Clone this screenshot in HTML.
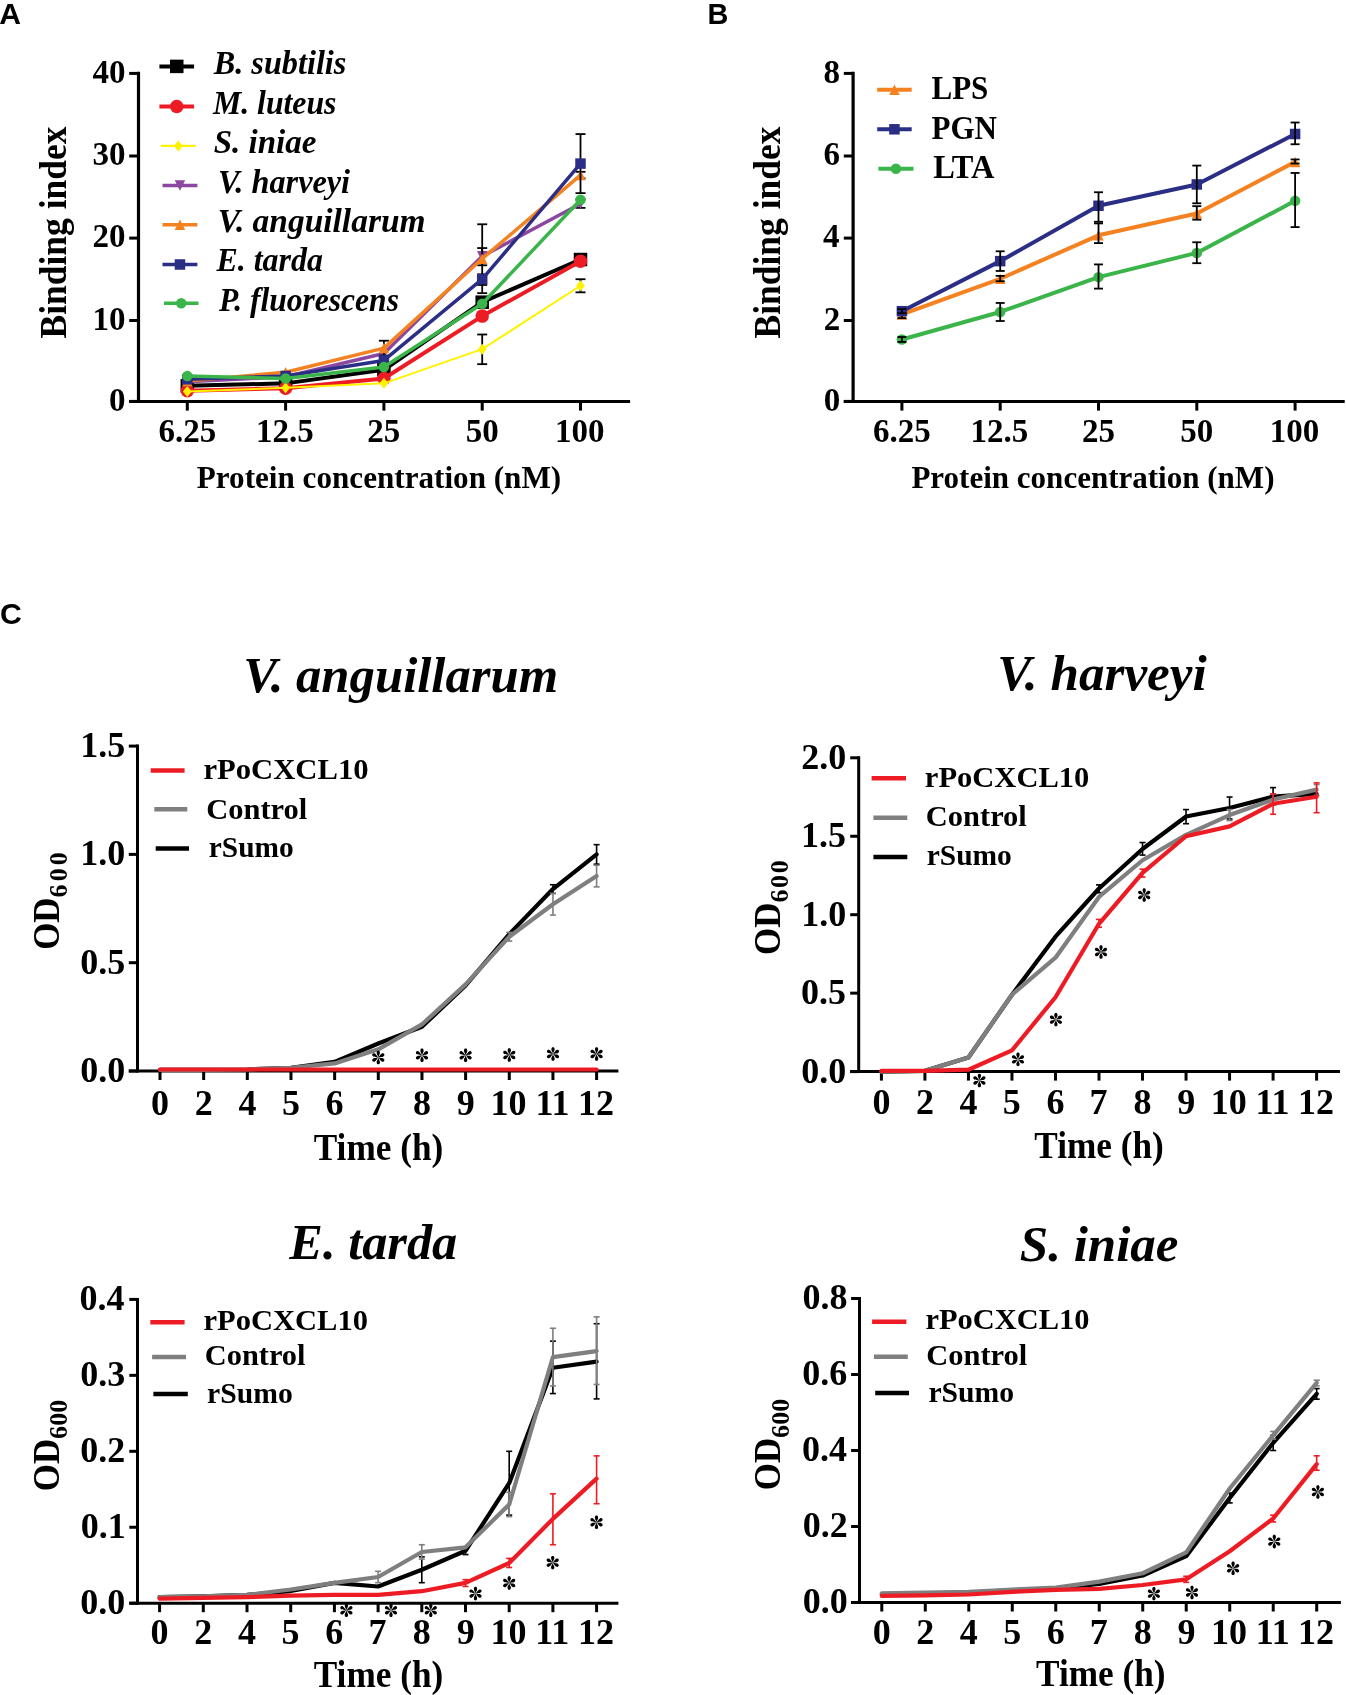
<!DOCTYPE html>
<html><head><meta charset="utf-8"><title>Figure</title>
<style>html,body{margin:0;padding:0;background:#fff;}svg{display:block;will-change:transform;}</style>
</head><body>
<svg width="1346" height="1695" viewBox="0 0 1346 1695">
<rect width="1346" height="1695" fill="#fff"/>
<text x="-0.75" y="23.90" style="font-family:'Liberation Sans';font-weight:bold;font-style:normal;font-size:30px" fill="#000" textLength="21.77" lengthAdjust="spacingAndGlyphs">A</text>
<text x="707.52" y="23.90" style="font-family:'Liberation Sans';font-weight:bold;font-style:normal;font-size:30px" fill="#000" textLength="20.84" lengthAdjust="spacingAndGlyphs">B</text>
<text x="-0.01" y="624.40" style="font-family:'Liberation Sans';font-weight:bold;font-style:normal;font-size:30px" fill="#000" textLength="21.83" lengthAdjust="spacingAndGlyphs">C</text>
<line x1="138.50" y1="71.80" x2="138.50" y2="402.90" stroke="#000" stroke-width="3.2" stroke-linecap="butt"/>
<line x1="129.20" y1="73.40" x2="138.50" y2="73.40" stroke="#000" stroke-width="3.0" stroke-linecap="butt"/>
<line x1="129.20" y1="156.00" x2="138.50" y2="156.00" stroke="#000" stroke-width="3.0" stroke-linecap="butt"/>
<line x1="129.20" y1="238.10" x2="138.50" y2="238.10" stroke="#000" stroke-width="3.0" stroke-linecap="butt"/>
<line x1="129.20" y1="320.50" x2="138.50" y2="320.50" stroke="#000" stroke-width="3.0" stroke-linecap="butt"/>
<line x1="129.20" y1="401.40" x2="138.50" y2="401.40" stroke="#000" stroke-width="3.0" stroke-linecap="butt"/>
<line x1="129.20" y1="401.40" x2="630.10" y2="401.40" stroke="#000" stroke-width="3.0" stroke-linecap="butt"/>
<line x1="187.30" y1="401.40" x2="187.30" y2="410.60" stroke="#000" stroke-width="3.0" stroke-linecap="butt"/>
<line x1="285.60" y1="401.40" x2="285.60" y2="410.60" stroke="#000" stroke-width="3.0" stroke-linecap="butt"/>
<line x1="383.90" y1="401.40" x2="383.90" y2="410.60" stroke="#000" stroke-width="3.0" stroke-linecap="butt"/>
<line x1="482.20" y1="401.40" x2="482.20" y2="410.60" stroke="#000" stroke-width="3.0" stroke-linecap="butt"/>
<line x1="580.50" y1="401.40" x2="580.50" y2="410.60" stroke="#000" stroke-width="3.0" stroke-linecap="butt"/>
<text x="92.62" y="82.70" style="font-family:'Liberation Serif';font-weight:bold;font-style:normal;font-size:33px" fill="#000">40</text>
<text x="92.62" y="165.30" style="font-family:'Liberation Serif';font-weight:bold;font-style:normal;font-size:33px" fill="#000">30</text>
<text x="92.62" y="247.40" style="font-family:'Liberation Serif';font-weight:bold;font-style:normal;font-size:33px" fill="#000">20</text>
<text x="92.62" y="329.80" style="font-family:'Liberation Serif';font-weight:bold;font-style:normal;font-size:33px" fill="#000">10</text>
<text x="109.12" y="410.70" style="font-family:'Liberation Serif';font-weight:bold;font-style:normal;font-size:33px" fill="#000">0</text>
<text x="158.43" y="441.80" style="font-family:'Liberation Serif';font-weight:bold;font-style:normal;font-size:33px" fill="#000">6.25</text>
<text x="255.98" y="441.80" style="font-family:'Liberation Serif';font-weight:bold;font-style:normal;font-size:33px" fill="#000">12.5</text>
<text x="367.32" y="441.80" style="font-family:'Liberation Serif';font-weight:bold;font-style:normal;font-size:33px" fill="#000">25</text>
<text x="465.70" y="441.80" style="font-family:'Liberation Serif';font-weight:bold;font-style:normal;font-size:33px" fill="#000">50</text>
<text x="555.09" y="441.80" style="font-family:'Liberation Serif';font-weight:bold;font-style:normal;font-size:33px" fill="#000">100</text>
<text x="196.83" y="487.60" style="font-family:'Liberation Serif';font-weight:bold;font-style:normal;font-size:31.5px" fill="#000" textLength="364.35" lengthAdjust="spacingAndGlyphs">Protein concentration (nM)</text>
<text transform="translate(65.60,338.53) rotate(-90)" x="0" y="0" style="font-family:'Liberation Serif';font-weight:bold;font-style:normal;font-size:38px" fill="#000" textLength="212.02" lengthAdjust="spacingAndGlyphs">Binding index</text>
<line x1="482.20" y1="298.08" x2="482.20" y2="306.28" stroke="#000" stroke-width="1.8" stroke-linecap="butt"/>
<line x1="477.20" y1="298.08" x2="487.20" y2="298.08" stroke="#000" stroke-width="1.8" stroke-linecap="butt"/>
<line x1="477.20" y1="306.28" x2="487.20" y2="306.28" stroke="#000" stroke-width="1.8" stroke-linecap="butt"/>
<line x1="580.50" y1="256.26" x2="580.50" y2="262.82" stroke="#000" stroke-width="1.8" stroke-linecap="butt"/>
<line x1="575.50" y1="256.26" x2="585.50" y2="256.26" stroke="#000" stroke-width="1.8" stroke-linecap="butt"/>
<line x1="575.50" y1="262.82" x2="585.50" y2="262.82" stroke="#000" stroke-width="1.8" stroke-linecap="butt"/>
<polyline points="187.30,385.82 285.60,383.36 383.90,369.83 482.20,302.18 580.50,259.54" fill="none" stroke="#000" stroke-width="4.0" stroke-linejoin="round" stroke-linecap="round"/>
<rect x="180.55" y="379.07" width="13.5" height="13.5" fill="#000"/>
<rect x="278.85" y="376.61" width="13.5" height="13.5" fill="#000"/>
<rect x="377.15" y="363.08" width="13.5" height="13.5" fill="#000"/>
<rect x="475.45" y="295.43" width="13.5" height="13.5" fill="#000"/>
<rect x="573.75" y="252.79" width="13.5" height="13.5" fill="#000"/>
<polyline points="187.30,390.74 285.60,388.28 383.90,378.44 482.20,316.12 580.50,261.18" fill="none" stroke="#ED1C24" stroke-width="4.0" stroke-linejoin="round" stroke-linecap="round"/>
<circle cx="187.30" cy="390.74" r="6.75" fill="#ED1C24"/>
<circle cx="285.60" cy="388.28" r="6.75" fill="#ED1C24"/>
<circle cx="383.90" cy="378.44" r="6.75" fill="#ED1C24"/>
<circle cx="482.20" cy="316.12" r="6.75" fill="#ED1C24"/>
<circle cx="580.50" cy="261.18" r="6.75" fill="#ED1C24"/>
<line x1="482.20" y1="334.49" x2="482.20" y2="364.17" stroke="#000" stroke-width="1.8" stroke-linecap="butt"/>
<line x1="477.20" y1="334.49" x2="487.20" y2="334.49" stroke="#000" stroke-width="1.8" stroke-linecap="butt"/>
<line x1="477.20" y1="364.17" x2="487.20" y2="364.17" stroke="#000" stroke-width="1.8" stroke-linecap="butt"/>
<line x1="580.50" y1="279.22" x2="580.50" y2="292.34" stroke="#000" stroke-width="1.8" stroke-linecap="butt"/>
<line x1="575.50" y1="279.22" x2="585.50" y2="279.22" stroke="#000" stroke-width="1.8" stroke-linecap="butt"/>
<line x1="575.50" y1="292.34" x2="585.50" y2="292.34" stroke="#000" stroke-width="1.8" stroke-linecap="butt"/>
<polyline points="187.30,391.56 285.60,387.87 383.90,383.36 482.20,349.17 580.50,285.78" fill="none" stroke="#FFF200" stroke-width="2.0" stroke-linejoin="round" stroke-linecap="round"/>
<polygon points="187.30,386.06 191.70,391.56 187.30,397.06 182.90,391.56" fill="#FFF200"/>
<polygon points="285.60,382.37 290.00,387.87 285.60,393.37 281.20,387.87" fill="#FFF200"/>
<polygon points="383.90,377.86 388.30,383.36 383.90,388.86 379.50,383.36" fill="#FFF200"/>
<polygon points="482.20,343.67 486.60,349.17 482.20,354.67 477.80,349.17" fill="#FFF200"/>
<polygon points="580.50,280.28 584.90,285.78 580.50,291.28 576.10,285.78" fill="#FFF200"/>
<line x1="482.20" y1="248.06" x2="482.20" y2="265.28" stroke="#000" stroke-width="1.8" stroke-linecap="butt"/>
<line x1="477.20" y1="248.06" x2="487.20" y2="248.06" stroke="#000" stroke-width="1.8" stroke-linecap="butt"/>
<line x1="477.20" y1="265.28" x2="487.20" y2="265.28" stroke="#000" stroke-width="1.8" stroke-linecap="butt"/>
<line x1="580.50" y1="199.68" x2="580.50" y2="207.88" stroke="#000" stroke-width="1.8" stroke-linecap="butt"/>
<line x1="575.50" y1="199.68" x2="585.50" y2="199.68" stroke="#000" stroke-width="1.8" stroke-linecap="butt"/>
<line x1="575.50" y1="207.88" x2="585.50" y2="207.88" stroke="#000" stroke-width="1.8" stroke-linecap="butt"/>
<polyline points="187.30,381.72 285.60,376.80 383.90,353.43 482.20,256.26 580.50,203.78" fill="none" stroke="#8C47A0" stroke-width="3.5" stroke-linejoin="round" stroke-linecap="round"/>
<polygon points="182.05,376.47 192.55,376.47 187.30,386.97" fill="#8C47A0"/>
<polygon points="280.35,371.55 290.85,371.55 285.60,382.05" fill="#8C47A0"/>
<polygon points="378.65,348.18 389.15,348.18 383.90,358.68" fill="#8C47A0"/>
<polygon points="476.95,251.01 487.45,251.01 482.20,261.51" fill="#8C47A0"/>
<polygon points="575.25,198.53 585.75,198.53 580.50,209.03" fill="#8C47A0"/>
<line x1="383.90" y1="340.72" x2="383.90" y2="355.48" stroke="#000" stroke-width="1.8" stroke-linecap="butt"/>
<line x1="378.90" y1="340.72" x2="388.90" y2="340.72" stroke="#000" stroke-width="1.8" stroke-linecap="butt"/>
<line x1="378.90" y1="355.48" x2="388.90" y2="355.48" stroke="#000" stroke-width="1.8" stroke-linecap="butt"/>
<line x1="482.20" y1="224.28" x2="482.20" y2="293.16" stroke="#000" stroke-width="1.8" stroke-linecap="butt"/>
<line x1="477.20" y1="224.28" x2="487.20" y2="224.28" stroke="#000" stroke-width="1.8" stroke-linecap="butt"/>
<line x1="477.20" y1="293.16" x2="487.20" y2="293.16" stroke="#000" stroke-width="1.8" stroke-linecap="butt"/>
<line x1="580.50" y1="171.80" x2="580.50" y2="178.36" stroke="#000" stroke-width="1.8" stroke-linecap="butt"/>
<line x1="575.50" y1="171.80" x2="585.50" y2="171.80" stroke="#000" stroke-width="1.8" stroke-linecap="butt"/>
<line x1="575.50" y1="178.36" x2="585.50" y2="178.36" stroke="#000" stroke-width="1.8" stroke-linecap="butt"/>
<polyline points="187.30,380.90 285.60,372.29 383.90,348.10 482.20,258.72 580.50,175.08" fill="none" stroke="#F58220" stroke-width="3.5" stroke-linejoin="round" stroke-linecap="round"/>
<polygon points="187.30,375.65 192.55,386.15 182.05,386.15" fill="#F58220"/>
<polygon points="285.60,367.04 290.85,377.54 280.35,377.54" fill="#F58220"/>
<polygon points="383.90,342.85 389.15,353.35 378.65,353.35" fill="#F58220"/>
<polygon points="482.20,253.47 487.45,263.97 476.95,263.97" fill="#F58220"/>
<polygon points="580.50,169.83 585.75,180.33 575.25,180.33" fill="#F58220"/>
<line x1="482.20" y1="274.30" x2="482.20" y2="284.96" stroke="#000" stroke-width="1.8" stroke-linecap="butt"/>
<line x1="477.20" y1="274.30" x2="487.20" y2="274.30" stroke="#000" stroke-width="1.8" stroke-linecap="butt"/>
<line x1="477.20" y1="284.96" x2="487.20" y2="284.96" stroke="#000" stroke-width="1.8" stroke-linecap="butt"/>
<line x1="580.50" y1="134.08" x2="580.50" y2="193.12" stroke="#000" stroke-width="1.8" stroke-linecap="butt"/>
<line x1="575.50" y1="134.08" x2="585.50" y2="134.08" stroke="#000" stroke-width="1.8" stroke-linecap="butt"/>
<line x1="575.50" y1="193.12" x2="585.50" y2="193.12" stroke="#000" stroke-width="1.8" stroke-linecap="butt"/>
<polyline points="187.30,379.26 285.60,375.98 383.90,360.40 482.20,279.22 580.50,163.60" fill="none" stroke="#2B2E85" stroke-width="3.5" stroke-linejoin="round" stroke-linecap="round"/>
<rect x="182.05" y="374.01" width="10.5" height="10.5" fill="#2B2E85"/>
<rect x="280.35" y="370.73" width="10.5" height="10.5" fill="#2B2E85"/>
<rect x="378.65" y="355.15" width="10.5" height="10.5" fill="#2B2E85"/>
<rect x="476.95" y="273.97" width="10.5" height="10.5" fill="#2B2E85"/>
<rect x="575.25" y="158.35" width="10.5" height="10.5" fill="#2B2E85"/>
<polyline points="187.30,375.98 285.60,378.44 383.90,366.96 482.20,303.82 580.50,199.68" fill="none" stroke="#3BB54A" stroke-width="3.5" stroke-linejoin="round" stroke-linecap="round"/>
<circle cx="187.30" cy="375.98" r="5.25" fill="#3BB54A"/>
<circle cx="285.60" cy="378.44" r="5.25" fill="#3BB54A"/>
<circle cx="383.90" cy="366.96" r="5.25" fill="#3BB54A"/>
<circle cx="482.20" cy="303.82" r="5.25" fill="#3BB54A"/>
<circle cx="580.50" cy="199.68" r="5.25" fill="#3BB54A"/>
<line x1="159.40" y1="66.40" x2="194.10" y2="66.40" stroke="#000" stroke-width="4.0" stroke-linecap="butt"/>
<rect x="170.00" y="59.65" width="13.5" height="13.5" fill="#000"/>
<text x="213.72" y="74.10" style="font-family:'Liberation Serif';font-weight:bold;font-style:italic;font-size:33px" fill="#000" textLength="132.67" lengthAdjust="spacingAndGlyphs">B. subtilis</text>
<line x1="159.40" y1="106.40" x2="194.10" y2="106.40" stroke="#ED1C24" stroke-width="4.0" stroke-linecap="butt"/>
<circle cx="176.75" cy="106.40" r="6.75" fill="#ED1C24"/>
<text x="212.98" y="114.20" style="font-family:'Liberation Serif';font-weight:bold;font-style:italic;font-size:33px" fill="#000" textLength="123.48" lengthAdjust="spacingAndGlyphs">M. luteus</text>
<line x1="160.80" y1="145.90" x2="195.80" y2="145.90" stroke="#FFF200" stroke-width="2.2" stroke-linecap="butt"/>
<polygon points="178.30,140.40 182.70,145.90 178.30,151.40 173.90,145.90" fill="#FFF200"/>
<text x="213.64" y="153.10" style="font-family:'Liberation Serif';font-weight:bold;font-style:italic;font-size:33px" fill="#000">S. iniae</text>
<line x1="162.50" y1="185.40" x2="197.40" y2="185.40" stroke="#8C47A0" stroke-width="3.5" stroke-linecap="butt"/>
<polygon points="174.70,180.15 185.20,180.15 179.95,190.65" fill="#8C47A0"/>
<text x="217.96" y="192.90" style="font-family:'Liberation Serif';font-weight:bold;font-style:italic;font-size:33px" fill="#000" textLength="132.13" lengthAdjust="spacingAndGlyphs">V. harveyi</text>
<line x1="162.50" y1="224.80" x2="197.40" y2="224.80" stroke="#F58220" stroke-width="3.5" stroke-linecap="butt"/>
<polygon points="179.95,219.55 185.20,230.05 174.70,230.05" fill="#F58220"/>
<text x="217.89" y="232.00" style="font-family:'Liberation Serif';font-weight:bold;font-style:italic;font-size:33px" fill="#000" textLength="207.68" lengthAdjust="spacingAndGlyphs">V. anguillarum</text>
<line x1="162.50" y1="264.50" x2="197.40" y2="264.50" stroke="#2B2E85" stroke-width="3.5" stroke-linecap="butt"/>
<rect x="174.70" y="259.25" width="10.5" height="10.5" fill="#2B2E85"/>
<text x="216.46" y="271.40" style="font-family:'Liberation Serif';font-weight:bold;font-style:italic;font-size:33px" fill="#000" textLength="106.41" lengthAdjust="spacingAndGlyphs">E. tarda</text>
<line x1="164.00" y1="303.30" x2="198.50" y2="303.30" stroke="#3BB54A" stroke-width="3.5" stroke-linecap="butt"/>
<circle cx="181.25" cy="303.30" r="5.25" fill="#3BB54A"/>
<text x="219.00" y="310.50" style="font-family:'Liberation Serif';font-weight:bold;font-style:italic;font-size:33px" fill="#000" textLength="179.92" lengthAdjust="spacingAndGlyphs">P. fluorescens</text>
<line x1="853.10" y1="71.80" x2="853.10" y2="402.90" stroke="#000" stroke-width="3.2" stroke-linecap="butt"/>
<line x1="843.80" y1="73.40" x2="853.10" y2="73.40" stroke="#000" stroke-width="3.0" stroke-linecap="butt"/>
<line x1="843.80" y1="156.00" x2="853.10" y2="156.00" stroke="#000" stroke-width="3.0" stroke-linecap="butt"/>
<line x1="843.80" y1="238.10" x2="853.10" y2="238.10" stroke="#000" stroke-width="3.0" stroke-linecap="butt"/>
<line x1="843.80" y1="320.50" x2="853.10" y2="320.50" stroke="#000" stroke-width="3.0" stroke-linecap="butt"/>
<line x1="843.80" y1="401.40" x2="853.10" y2="401.40" stroke="#000" stroke-width="3.0" stroke-linecap="butt"/>
<line x1="843.80" y1="401.40" x2="1344.70" y2="401.40" stroke="#000" stroke-width="3.0" stroke-linecap="butt"/>
<line x1="901.90" y1="401.40" x2="901.90" y2="410.60" stroke="#000" stroke-width="3.0" stroke-linecap="butt"/>
<line x1="1000.20" y1="401.40" x2="1000.20" y2="410.60" stroke="#000" stroke-width="3.0" stroke-linecap="butt"/>
<line x1="1098.50" y1="401.40" x2="1098.50" y2="410.60" stroke="#000" stroke-width="3.0" stroke-linecap="butt"/>
<line x1="1196.80" y1="401.40" x2="1196.80" y2="410.60" stroke="#000" stroke-width="3.0" stroke-linecap="butt"/>
<line x1="1295.10" y1="401.40" x2="1295.10" y2="410.60" stroke="#000" stroke-width="3.0" stroke-linecap="butt"/>
<text x="823.55" y="82.70" style="font-family:'Liberation Serif';font-weight:bold;font-style:normal;font-size:33px" fill="#000">8</text>
<text x="823.39" y="165.30" style="font-family:'Liberation Serif';font-weight:bold;font-style:normal;font-size:33px" fill="#000">6</text>
<text x="823.06" y="247.40" style="font-family:'Liberation Serif';font-weight:bold;font-style:normal;font-size:33px" fill="#000">4</text>
<text x="823.72" y="329.80" style="font-family:'Liberation Serif';font-weight:bold;font-style:normal;font-size:33px" fill="#000">2</text>
<text x="823.72" y="410.70" style="font-family:'Liberation Serif';font-weight:bold;font-style:normal;font-size:33px" fill="#000">0</text>
<text x="873.03" y="441.80" style="font-family:'Liberation Serif';font-weight:bold;font-style:normal;font-size:33px" fill="#000">6.25</text>
<text x="970.58" y="441.80" style="font-family:'Liberation Serif';font-weight:bold;font-style:normal;font-size:33px" fill="#000">12.5</text>
<text x="1081.92" y="441.80" style="font-family:'Liberation Serif';font-weight:bold;font-style:normal;font-size:33px" fill="#000">25</text>
<text x="1180.30" y="441.80" style="font-family:'Liberation Serif';font-weight:bold;font-style:normal;font-size:33px" fill="#000">50</text>
<text x="1269.69" y="441.80" style="font-family:'Liberation Serif';font-weight:bold;font-style:normal;font-size:33px" fill="#000">100</text>
<text x="911.43" y="487.60" style="font-family:'Liberation Serif';font-weight:bold;font-style:normal;font-size:31.5px" fill="#000" textLength="363.06" lengthAdjust="spacingAndGlyphs">Protein concentration (nM)</text>
<text transform="translate(780.20,338.53) rotate(-90)" x="0" y="0" style="font-family:'Liberation Serif';font-weight:bold;font-style:normal;font-size:38px" fill="#000" textLength="212.02" lengthAdjust="spacingAndGlyphs">Binding index</text>
<polyline points="901.90,314.45 1000.20,278.77 1098.50,235.30 1196.80,213.56 1295.10,161.89" fill="none" stroke="#F58220" stroke-width="4.0" stroke-linejoin="round" stroke-linecap="round"/>
<polygon points="901.90,309.20 907.15,319.70 896.65,319.70" fill="#F58220"/>
<polygon points="1000.20,273.52 1005.45,284.02 994.95,284.02" fill="#F58220"/>
<polygon points="1098.50,230.05 1103.75,240.55 1093.25,240.55" fill="#F58220"/>
<polygon points="1196.80,208.31 1202.05,218.81 1191.55,218.81" fill="#F58220"/>
<polygon points="1295.10,156.64 1300.35,167.14 1289.85,167.14" fill="#F58220"/>
<line x1="901.90" y1="311.17" x2="901.90" y2="318.14" stroke="#000" stroke-width="1.8" stroke-linecap="butt"/>
<line x1="897.40" y1="311.17" x2="906.40" y2="311.17" stroke="#000" stroke-width="1.8" stroke-linecap="butt"/>
<line x1="897.40" y1="318.14" x2="906.40" y2="318.14" stroke="#000" stroke-width="1.8" stroke-linecap="butt"/>
<line x1="1000.20" y1="275.90" x2="1000.20" y2="281.23" stroke="#000" stroke-width="1.8" stroke-linecap="butt"/>
<line x1="995.70" y1="275.90" x2="1004.70" y2="275.90" stroke="#000" stroke-width="1.8" stroke-linecap="butt"/>
<line x1="995.70" y1="281.23" x2="1004.70" y2="281.23" stroke="#000" stroke-width="1.8" stroke-linecap="butt"/>
<line x1="1098.50" y1="223.41" x2="1098.50" y2="243.09" stroke="#000" stroke-width="1.8" stroke-linecap="butt"/>
<line x1="1094.00" y1="223.41" x2="1103.00" y2="223.41" stroke="#000" stroke-width="1.8" stroke-linecap="butt"/>
<line x1="1094.00" y1="243.09" x2="1103.00" y2="243.09" stroke="#000" stroke-width="1.8" stroke-linecap="butt"/>
<line x1="1196.80" y1="206.18" x2="1196.80" y2="219.71" stroke="#000" stroke-width="1.8" stroke-linecap="butt"/>
<line x1="1192.30" y1="206.18" x2="1201.30" y2="206.18" stroke="#000" stroke-width="1.8" stroke-linecap="butt"/>
<line x1="1192.30" y1="219.71" x2="1201.30" y2="219.71" stroke="#000" stroke-width="1.8" stroke-linecap="butt"/>
<line x1="1295.10" y1="159.43" x2="1295.10" y2="163.53" stroke="#000" stroke-width="1.8" stroke-linecap="butt"/>
<line x1="1290.60" y1="159.43" x2="1299.60" y2="159.43" stroke="#000" stroke-width="1.8" stroke-linecap="butt"/>
<line x1="1290.60" y1="163.53" x2="1299.60" y2="163.53" stroke="#000" stroke-width="1.8" stroke-linecap="butt"/>
<polyline points="901.90,311.17 1000.20,261.14 1098.50,205.77 1196.80,184.44 1295.10,134.00" fill="none" stroke="#2B2E85" stroke-width="4.0" stroke-linejoin="round" stroke-linecap="round"/>
<rect x="896.65" y="305.92" width="10.5" height="10.5" fill="#2B2E85"/>
<rect x="994.95" y="255.89" width="10.5" height="10.5" fill="#2B2E85"/>
<rect x="1093.25" y="200.52" width="10.5" height="10.5" fill="#2B2E85"/>
<rect x="1191.55" y="179.19" width="10.5" height="10.5" fill="#2B2E85"/>
<rect x="1289.85" y="128.75" width="10.5" height="10.5" fill="#2B2E85"/>
<line x1="901.90" y1="309.12" x2="901.90" y2="313.22" stroke="#000" stroke-width="1.8" stroke-linecap="butt"/>
<line x1="897.40" y1="309.12" x2="906.40" y2="309.12" stroke="#000" stroke-width="1.8" stroke-linecap="butt"/>
<line x1="897.40" y1="313.22" x2="906.40" y2="313.22" stroke="#000" stroke-width="1.8" stroke-linecap="butt"/>
<line x1="1000.20" y1="251.29" x2="1000.20" y2="270.98" stroke="#000" stroke-width="1.8" stroke-linecap="butt"/>
<line x1="995.70" y1="251.29" x2="1004.70" y2="251.29" stroke="#000" stroke-width="1.8" stroke-linecap="butt"/>
<line x1="995.70" y1="270.98" x2="1004.70" y2="270.98" stroke="#000" stroke-width="1.8" stroke-linecap="butt"/>
<line x1="1098.50" y1="192.24" x2="1098.50" y2="221.77" stroke="#000" stroke-width="1.8" stroke-linecap="butt"/>
<line x1="1094.00" y1="192.24" x2="1103.00" y2="192.24" stroke="#000" stroke-width="1.8" stroke-linecap="butt"/>
<line x1="1094.00" y1="221.77" x2="1103.00" y2="221.77" stroke="#000" stroke-width="1.8" stroke-linecap="butt"/>
<line x1="1196.80" y1="165.58" x2="1196.80" y2="203.31" stroke="#000" stroke-width="1.8" stroke-linecap="butt"/>
<line x1="1192.30" y1="165.58" x2="1201.30" y2="165.58" stroke="#000" stroke-width="1.8" stroke-linecap="butt"/>
<line x1="1192.30" y1="203.31" x2="1201.30" y2="203.31" stroke="#000" stroke-width="1.8" stroke-linecap="butt"/>
<line x1="1295.10" y1="122.51" x2="1295.10" y2="144.25" stroke="#000" stroke-width="1.8" stroke-linecap="butt"/>
<line x1="1290.60" y1="122.51" x2="1299.60" y2="122.51" stroke="#000" stroke-width="1.8" stroke-linecap="butt"/>
<line x1="1290.60" y1="144.25" x2="1299.60" y2="144.25" stroke="#000" stroke-width="1.8" stroke-linecap="butt"/>
<polyline points="901.90,339.47 1000.20,311.99 1098.50,277.13 1196.80,252.93 1295.10,200.85" fill="none" stroke="#3BB54A" stroke-width="4.0" stroke-linejoin="round" stroke-linecap="round"/>
<circle cx="901.90" cy="339.47" r="5.25" fill="#3BB54A"/>
<circle cx="1000.20" cy="311.99" r="5.25" fill="#3BB54A"/>
<circle cx="1098.50" cy="277.13" r="5.25" fill="#3BB54A"/>
<circle cx="1196.80" cy="252.93" r="5.25" fill="#3BB54A"/>
<circle cx="1295.10" cy="200.85" r="5.25" fill="#3BB54A"/>
<line x1="901.90" y1="337.01" x2="901.90" y2="341.93" stroke="#000" stroke-width="1.8" stroke-linecap="butt"/>
<line x1="897.40" y1="337.01" x2="906.40" y2="337.01" stroke="#000" stroke-width="1.8" stroke-linecap="butt"/>
<line x1="897.40" y1="341.93" x2="906.40" y2="341.93" stroke="#000" stroke-width="1.8" stroke-linecap="butt"/>
<line x1="1000.20" y1="302.97" x2="1000.20" y2="321.02" stroke="#000" stroke-width="1.8" stroke-linecap="butt"/>
<line x1="995.70" y1="302.97" x2="1004.70" y2="302.97" stroke="#000" stroke-width="1.8" stroke-linecap="butt"/>
<line x1="995.70" y1="321.02" x2="1004.70" y2="321.02" stroke="#000" stroke-width="1.8" stroke-linecap="butt"/>
<line x1="1098.50" y1="264.42" x2="1098.50" y2="288.62" stroke="#000" stroke-width="1.8" stroke-linecap="butt"/>
<line x1="1094.00" y1="264.42" x2="1103.00" y2="264.42" stroke="#000" stroke-width="1.8" stroke-linecap="butt"/>
<line x1="1094.00" y1="288.62" x2="1103.00" y2="288.62" stroke="#000" stroke-width="1.8" stroke-linecap="butt"/>
<line x1="1196.80" y1="242.27" x2="1196.80" y2="263.19" stroke="#000" stroke-width="1.8" stroke-linecap="butt"/>
<line x1="1192.30" y1="242.27" x2="1201.30" y2="242.27" stroke="#000" stroke-width="1.8" stroke-linecap="butt"/>
<line x1="1192.30" y1="263.19" x2="1201.30" y2="263.19" stroke="#000" stroke-width="1.8" stroke-linecap="butt"/>
<line x1="1295.10" y1="172.96" x2="1295.10" y2="227.10" stroke="#000" stroke-width="1.8" stroke-linecap="butt"/>
<line x1="1290.60" y1="172.96" x2="1299.60" y2="172.96" stroke="#000" stroke-width="1.8" stroke-linecap="butt"/>
<line x1="1290.60" y1="227.10" x2="1299.60" y2="227.10" stroke="#000" stroke-width="1.8" stroke-linecap="butt"/>
<line x1="877.20" y1="89.70" x2="911.70" y2="89.70" stroke="#F58220" stroke-width="4.0" stroke-linecap="butt"/>
<polygon points="894.45,84.45 899.70,94.95 889.20,94.95" fill="#F58220"/>
<text x="931.43" y="99.20" style="font-family:'Liberation Serif';font-weight:bold;font-style:normal;font-size:33px" fill="#000" textLength="56.98" lengthAdjust="spacingAndGlyphs">LPS</text>
<line x1="877.20" y1="129.30" x2="911.70" y2="129.30" stroke="#2B2E85" stroke-width="4.0" stroke-linecap="butt"/>
<rect x="889.20" y="124.05" width="10.5" height="10.5" fill="#2B2E85"/>
<text x="931.43" y="138.50" style="font-family:'Liberation Serif';font-weight:bold;font-style:normal;font-size:33px" fill="#000" textLength="65.60" lengthAdjust="spacingAndGlyphs">PGN</text>
<line x1="878.40" y1="168.80" x2="913.50" y2="168.80" stroke="#3BB54A" stroke-width="4.0" stroke-linecap="butt"/>
<circle cx="895.95" cy="168.80" r="5.25" fill="#3BB54A"/>
<text x="933.21" y="178.30" style="font-family:'Liberation Serif';font-weight:bold;font-style:normal;font-size:33px" fill="#000" textLength="61.26" lengthAdjust="spacingAndGlyphs">LTA</text>
<line x1="137.50" y1="744.60" x2="137.50" y2="1072.50" stroke="#000" stroke-width="3.0" stroke-linecap="butt"/>
<line x1="128.80" y1="746.10" x2="137.50" y2="746.10" stroke="#000" stroke-width="3.0" stroke-linecap="butt"/>
<line x1="128.80" y1="854.40" x2="137.50" y2="854.40" stroke="#000" stroke-width="3.0" stroke-linecap="butt"/>
<line x1="128.80" y1="962.70" x2="137.50" y2="962.70" stroke="#000" stroke-width="3.0" stroke-linecap="butt"/>
<line x1="128.80" y1="1071.00" x2="137.50" y2="1071.00" stroke="#000" stroke-width="3.0" stroke-linecap="butt"/>
<line x1="128.80" y1="1071.00" x2="618.40" y2="1071.00" stroke="#000" stroke-width="3.0" stroke-linecap="butt"/>
<line x1="160.00" y1="1071.00" x2="160.00" y2="1080.00" stroke="#000" stroke-width="3.0" stroke-linecap="butt"/>
<line x1="203.66" y1="1071.00" x2="203.66" y2="1080.00" stroke="#000" stroke-width="3.0" stroke-linecap="butt"/>
<line x1="247.32" y1="1071.00" x2="247.32" y2="1080.00" stroke="#000" stroke-width="3.0" stroke-linecap="butt"/>
<line x1="290.98" y1="1071.00" x2="290.98" y2="1080.00" stroke="#000" stroke-width="3.0" stroke-linecap="butt"/>
<line x1="334.64" y1="1071.00" x2="334.64" y2="1080.00" stroke="#000" stroke-width="3.0" stroke-linecap="butt"/>
<line x1="378.30" y1="1071.00" x2="378.30" y2="1080.00" stroke="#000" stroke-width="3.0" stroke-linecap="butt"/>
<line x1="421.96" y1="1071.00" x2="421.96" y2="1080.00" stroke="#000" stroke-width="3.0" stroke-linecap="butt"/>
<line x1="465.62" y1="1071.00" x2="465.62" y2="1080.00" stroke="#000" stroke-width="3.0" stroke-linecap="butt"/>
<line x1="509.28" y1="1071.00" x2="509.28" y2="1080.00" stroke="#000" stroke-width="3.0" stroke-linecap="butt"/>
<line x1="552.94" y1="1071.00" x2="552.94" y2="1080.00" stroke="#000" stroke-width="3.0" stroke-linecap="butt"/>
<line x1="596.60" y1="1071.00" x2="596.60" y2="1080.00" stroke="#000" stroke-width="3.0" stroke-linecap="butt"/>
<text x="80.16" y="757.00" style="font-family:'Liberation Serif';font-weight:bold;font-style:normal;font-size:36px" fill="#000">1.5</text>
<text x="80.34" y="865.30" style="font-family:'Liberation Serif';font-weight:bold;font-style:normal;font-size:36px" fill="#000">1.0</text>
<text x="80.16" y="973.60" style="font-family:'Liberation Serif';font-weight:bold;font-style:normal;font-size:36px" fill="#000">0.5</text>
<text x="80.34" y="1081.90" style="font-family:'Liberation Serif';font-weight:bold;font-style:normal;font-size:36px" fill="#000">0.0</text>
<text x="151.00" y="1114.50" style="font-family:'Liberation Serif';font-weight:bold;font-style:normal;font-size:36px" fill="#000">0</text>
<text x="194.66" y="1114.50" style="font-family:'Liberation Serif';font-weight:bold;font-style:normal;font-size:36px" fill="#000">2</text>
<text x="238.41" y="1114.50" style="font-family:'Liberation Serif';font-weight:bold;font-style:normal;font-size:36px" fill="#000">4</text>
<text x="281.89" y="1114.50" style="font-family:'Liberation Serif';font-weight:bold;font-style:normal;font-size:36px" fill="#000">5</text>
<text x="325.55" y="1114.50" style="font-family:'Liberation Serif';font-weight:bold;font-style:normal;font-size:36px" fill="#000">6</text>
<text x="368.76" y="1114.50" style="font-family:'Liberation Serif';font-weight:bold;font-style:normal;font-size:36px" fill="#000">7</text>
<text x="412.96" y="1114.50" style="font-family:'Liberation Serif';font-weight:bold;font-style:normal;font-size:36px" fill="#000">8</text>
<text x="456.80" y="1114.50" style="font-family:'Liberation Serif';font-weight:bold;font-style:normal;font-size:36px" fill="#000">9</text>
<text x="490.56" y="1114.50" style="font-family:'Liberation Serif';font-weight:bold;font-style:normal;font-size:36px" fill="#000">10</text>
<text x="535.39" y="1114.50" style="font-family:'Liberation Serif';font-weight:bold;font-style:normal;font-size:36px" fill="#000">11</text>
<text x="577.88" y="1114.50" style="font-family:'Liberation Serif';font-weight:bold;font-style:normal;font-size:36px" fill="#000">12</text>
<text x="313.77" y="1159.80" style="font-family:'Liberation Serif';font-weight:bold;font-style:normal;font-size:37px" fill="#000" textLength="129.47" lengthAdjust="spacingAndGlyphs">Time (h)</text>
<text x="243.36" y="691.80" style="font-family:'Liberation Serif';font-weight:bold;font-style:italic;font-size:51px" fill="#000" textLength="314.83" lengthAdjust="spacingAndGlyphs">V. anguillarum</text>
<text transform="translate(59.00,949.84) rotate(-90)" x="0" y="0" style="font-family:'Liberation Serif';font-weight:bold;font-style:normal;font-size:37px" fill="#000" textLength="52.31" lengthAdjust="spacingAndGlyphs">OD</text>
<text transform="translate(67.30,897.51) rotate(-90)" x="0" y="0" style="font-family:'Liberation Serif';font-weight:bold;font-size:26px;letter-spacing:3.17px" fill="#000">600</text>
<line x1="596.60" y1="844.65" x2="596.60" y2="864.15" stroke="#000" stroke-width="1.6" stroke-linecap="butt"/>
<line x1="593.60" y1="844.65" x2="599.60" y2="844.65" stroke="#000" stroke-width="1.6" stroke-linecap="butt"/>
<line x1="593.60" y1="864.15" x2="599.60" y2="864.15" stroke="#000" stroke-width="1.6" stroke-linecap="butt"/>
<line x1="552.94" y1="884.72" x2="552.94" y2="893.39" stroke="#000" stroke-width="1.6" stroke-linecap="butt"/>
<line x1="549.94" y1="884.72" x2="555.94" y2="884.72" stroke="#000" stroke-width="1.6" stroke-linecap="butt"/>
<line x1="549.94" y1="893.39" x2="555.94" y2="893.39" stroke="#000" stroke-width="1.6" stroke-linecap="butt"/>
<polyline points="160.00,1069.92 203.66,1069.92 247.32,1069.48 290.98,1067.75 334.64,1061.90 378.30,1043.49 421.96,1026.81 465.62,985.44 509.28,934.11 552.94,889.06 596.60,854.40" fill="none" stroke="#000" stroke-width="4.2" stroke-linejoin="round" stroke-linecap="round"/>
<line x1="552.94" y1="893.39" x2="552.94" y2="915.05" stroke="#7F7F7F" stroke-width="1.6" stroke-linecap="butt"/>
<line x1="549.94" y1="893.39" x2="555.94" y2="893.39" stroke="#7F7F7F" stroke-width="1.6" stroke-linecap="butt"/>
<line x1="549.94" y1="915.05" x2="555.94" y2="915.05" stroke="#7F7F7F" stroke-width="1.6" stroke-linecap="butt"/>
<line x1="596.60" y1="865.23" x2="596.60" y2="886.89" stroke="#7F7F7F" stroke-width="1.6" stroke-linecap="butt"/>
<line x1="593.60" y1="865.23" x2="599.60" y2="865.23" stroke="#7F7F7F" stroke-width="1.6" stroke-linecap="butt"/>
<line x1="593.60" y1="886.89" x2="599.60" y2="886.89" stroke="#7F7F7F" stroke-width="1.6" stroke-linecap="butt"/>
<line x1="509.28" y1="932.38" x2="509.28" y2="941.04" stroke="#7F7F7F" stroke-width="1.6" stroke-linecap="butt"/>
<line x1="506.28" y1="932.38" x2="512.28" y2="932.38" stroke="#7F7F7F" stroke-width="1.6" stroke-linecap="butt"/>
<line x1="506.28" y1="941.04" x2="512.28" y2="941.04" stroke="#7F7F7F" stroke-width="1.6" stroke-linecap="butt"/>
<polyline points="160.00,1069.92 203.66,1069.92 247.32,1069.48 290.98,1067.75 334.64,1063.42 378.30,1049.34 421.96,1024.43 465.62,984.36 509.28,936.71 552.94,904.22 596.60,876.06" fill="none" stroke="#7F7F7F" stroke-width="4.2" stroke-linejoin="round" stroke-linecap="round"/>
<polyline points="160.00,1069.48 203.66,1069.48 247.32,1069.48 290.98,1069.48 334.64,1069.48 378.30,1069.48 421.96,1069.48 465.62,1069.48 509.28,1069.48 552.94,1069.48 596.60,1069.48" fill="none" stroke="#ED1C24" stroke-width="4.2" stroke-linejoin="round" stroke-linecap="round"/>
<g fill="#000" transform="translate(378.30,1057.50)"><path d="M0,0 C-0.35,-2.04 -1.90,-3.40 -1.65,-4.90 C-1.48,-6.46 -0.74,-6.80 0,-6.80 C0.74,-6.80 1.48,-6.46 1.65,-4.90 C1.90,-3.40 0.35,-2.04 0,0Z" transform="rotate(0)"/><path d="M0,0 C-0.35,-2.04 -1.90,-3.40 -1.65,-4.90 C-1.48,-6.46 -0.74,-6.80 0,-6.80 C0.74,-6.80 1.48,-6.46 1.65,-4.90 C1.90,-3.40 0.35,-2.04 0,0Z" transform="rotate(60)"/><path d="M0,0 C-0.35,-2.04 -1.90,-3.40 -1.65,-4.90 C-1.48,-6.46 -0.74,-6.80 0,-6.80 C0.74,-6.80 1.48,-6.46 1.65,-4.90 C1.90,-3.40 0.35,-2.04 0,0Z" transform="rotate(120)"/><path d="M0,0 C-0.35,-2.04 -1.90,-3.40 -1.65,-4.90 C-1.48,-6.46 -0.74,-6.80 0,-6.80 C0.74,-6.80 1.48,-6.46 1.65,-4.90 C1.90,-3.40 0.35,-2.04 0,0Z" transform="rotate(180)"/><path d="M0,0 C-0.35,-2.04 -1.90,-3.40 -1.65,-4.90 C-1.48,-6.46 -0.74,-6.80 0,-6.80 C0.74,-6.80 1.48,-6.46 1.65,-4.90 C1.90,-3.40 0.35,-2.04 0,0Z" transform="rotate(240)"/><path d="M0,0 C-0.35,-2.04 -1.90,-3.40 -1.65,-4.90 C-1.48,-6.46 -0.74,-6.80 0,-6.80 C0.74,-6.80 1.48,-6.46 1.65,-4.90 C1.90,-3.40 0.35,-2.04 0,0Z" transform="rotate(300)"/></g>
<g fill="#000" transform="translate(422.00,1055.30)"><path d="M0,0 C-0.35,-2.04 -1.90,-3.40 -1.65,-4.90 C-1.48,-6.46 -0.74,-6.80 0,-6.80 C0.74,-6.80 1.48,-6.46 1.65,-4.90 C1.90,-3.40 0.35,-2.04 0,0Z" transform="rotate(0)"/><path d="M0,0 C-0.35,-2.04 -1.90,-3.40 -1.65,-4.90 C-1.48,-6.46 -0.74,-6.80 0,-6.80 C0.74,-6.80 1.48,-6.46 1.65,-4.90 C1.90,-3.40 0.35,-2.04 0,0Z" transform="rotate(60)"/><path d="M0,0 C-0.35,-2.04 -1.90,-3.40 -1.65,-4.90 C-1.48,-6.46 -0.74,-6.80 0,-6.80 C0.74,-6.80 1.48,-6.46 1.65,-4.90 C1.90,-3.40 0.35,-2.04 0,0Z" transform="rotate(120)"/><path d="M0,0 C-0.35,-2.04 -1.90,-3.40 -1.65,-4.90 C-1.48,-6.46 -0.74,-6.80 0,-6.80 C0.74,-6.80 1.48,-6.46 1.65,-4.90 C1.90,-3.40 0.35,-2.04 0,0Z" transform="rotate(180)"/><path d="M0,0 C-0.35,-2.04 -1.90,-3.40 -1.65,-4.90 C-1.48,-6.46 -0.74,-6.80 0,-6.80 C0.74,-6.80 1.48,-6.46 1.65,-4.90 C1.90,-3.40 0.35,-2.04 0,0Z" transform="rotate(240)"/><path d="M0,0 C-0.35,-2.04 -1.90,-3.40 -1.65,-4.90 C-1.48,-6.46 -0.74,-6.80 0,-6.80 C0.74,-6.80 1.48,-6.46 1.65,-4.90 C1.90,-3.40 0.35,-2.04 0,0Z" transform="rotate(300)"/></g>
<g fill="#000" transform="translate(465.60,1055.30)"><path d="M0,0 C-0.35,-2.04 -1.90,-3.40 -1.65,-4.90 C-1.48,-6.46 -0.74,-6.80 0,-6.80 C0.74,-6.80 1.48,-6.46 1.65,-4.90 C1.90,-3.40 0.35,-2.04 0,0Z" transform="rotate(0)"/><path d="M0,0 C-0.35,-2.04 -1.90,-3.40 -1.65,-4.90 C-1.48,-6.46 -0.74,-6.80 0,-6.80 C0.74,-6.80 1.48,-6.46 1.65,-4.90 C1.90,-3.40 0.35,-2.04 0,0Z" transform="rotate(60)"/><path d="M0,0 C-0.35,-2.04 -1.90,-3.40 -1.65,-4.90 C-1.48,-6.46 -0.74,-6.80 0,-6.80 C0.74,-6.80 1.48,-6.46 1.65,-4.90 C1.90,-3.40 0.35,-2.04 0,0Z" transform="rotate(120)"/><path d="M0,0 C-0.35,-2.04 -1.90,-3.40 -1.65,-4.90 C-1.48,-6.46 -0.74,-6.80 0,-6.80 C0.74,-6.80 1.48,-6.46 1.65,-4.90 C1.90,-3.40 0.35,-2.04 0,0Z" transform="rotate(180)"/><path d="M0,0 C-0.35,-2.04 -1.90,-3.40 -1.65,-4.90 C-1.48,-6.46 -0.74,-6.80 0,-6.80 C0.74,-6.80 1.48,-6.46 1.65,-4.90 C1.90,-3.40 0.35,-2.04 0,0Z" transform="rotate(240)"/><path d="M0,0 C-0.35,-2.04 -1.90,-3.40 -1.65,-4.90 C-1.48,-6.46 -0.74,-6.80 0,-6.80 C0.74,-6.80 1.48,-6.46 1.65,-4.90 C1.90,-3.40 0.35,-2.04 0,0Z" transform="rotate(300)"/></g>
<g fill="#000" transform="translate(509.30,1055.00)"><path d="M0,0 C-0.35,-2.04 -1.90,-3.40 -1.65,-4.90 C-1.48,-6.46 -0.74,-6.80 0,-6.80 C0.74,-6.80 1.48,-6.46 1.65,-4.90 C1.90,-3.40 0.35,-2.04 0,0Z" transform="rotate(0)"/><path d="M0,0 C-0.35,-2.04 -1.90,-3.40 -1.65,-4.90 C-1.48,-6.46 -0.74,-6.80 0,-6.80 C0.74,-6.80 1.48,-6.46 1.65,-4.90 C1.90,-3.40 0.35,-2.04 0,0Z" transform="rotate(60)"/><path d="M0,0 C-0.35,-2.04 -1.90,-3.40 -1.65,-4.90 C-1.48,-6.46 -0.74,-6.80 0,-6.80 C0.74,-6.80 1.48,-6.46 1.65,-4.90 C1.90,-3.40 0.35,-2.04 0,0Z" transform="rotate(120)"/><path d="M0,0 C-0.35,-2.04 -1.90,-3.40 -1.65,-4.90 C-1.48,-6.46 -0.74,-6.80 0,-6.80 C0.74,-6.80 1.48,-6.46 1.65,-4.90 C1.90,-3.40 0.35,-2.04 0,0Z" transform="rotate(180)"/><path d="M0,0 C-0.35,-2.04 -1.90,-3.40 -1.65,-4.90 C-1.48,-6.46 -0.74,-6.80 0,-6.80 C0.74,-6.80 1.48,-6.46 1.65,-4.90 C1.90,-3.40 0.35,-2.04 0,0Z" transform="rotate(240)"/><path d="M0,0 C-0.35,-2.04 -1.90,-3.40 -1.65,-4.90 C-1.48,-6.46 -0.74,-6.80 0,-6.80 C0.74,-6.80 1.48,-6.46 1.65,-4.90 C1.90,-3.40 0.35,-2.04 0,0Z" transform="rotate(300)"/></g>
<g fill="#000" transform="translate(553.00,1054.00)"><path d="M0,0 C-0.35,-2.04 -1.90,-3.40 -1.65,-4.90 C-1.48,-6.46 -0.74,-6.80 0,-6.80 C0.74,-6.80 1.48,-6.46 1.65,-4.90 C1.90,-3.40 0.35,-2.04 0,0Z" transform="rotate(0)"/><path d="M0,0 C-0.35,-2.04 -1.90,-3.40 -1.65,-4.90 C-1.48,-6.46 -0.74,-6.80 0,-6.80 C0.74,-6.80 1.48,-6.46 1.65,-4.90 C1.90,-3.40 0.35,-2.04 0,0Z" transform="rotate(60)"/><path d="M0,0 C-0.35,-2.04 -1.90,-3.40 -1.65,-4.90 C-1.48,-6.46 -0.74,-6.80 0,-6.80 C0.74,-6.80 1.48,-6.46 1.65,-4.90 C1.90,-3.40 0.35,-2.04 0,0Z" transform="rotate(120)"/><path d="M0,0 C-0.35,-2.04 -1.90,-3.40 -1.65,-4.90 C-1.48,-6.46 -0.74,-6.80 0,-6.80 C0.74,-6.80 1.48,-6.46 1.65,-4.90 C1.90,-3.40 0.35,-2.04 0,0Z" transform="rotate(180)"/><path d="M0,0 C-0.35,-2.04 -1.90,-3.40 -1.65,-4.90 C-1.48,-6.46 -0.74,-6.80 0,-6.80 C0.74,-6.80 1.48,-6.46 1.65,-4.90 C1.90,-3.40 0.35,-2.04 0,0Z" transform="rotate(240)"/><path d="M0,0 C-0.35,-2.04 -1.90,-3.40 -1.65,-4.90 C-1.48,-6.46 -0.74,-6.80 0,-6.80 C0.74,-6.80 1.48,-6.46 1.65,-4.90 C1.90,-3.40 0.35,-2.04 0,0Z" transform="rotate(300)"/></g>
<g fill="#000" transform="translate(596.60,1054.00)"><path d="M0,0 C-0.35,-2.04 -1.90,-3.40 -1.65,-4.90 C-1.48,-6.46 -0.74,-6.80 0,-6.80 C0.74,-6.80 1.48,-6.46 1.65,-4.90 C1.90,-3.40 0.35,-2.04 0,0Z" transform="rotate(0)"/><path d="M0,0 C-0.35,-2.04 -1.90,-3.40 -1.65,-4.90 C-1.48,-6.46 -0.74,-6.80 0,-6.80 C0.74,-6.80 1.48,-6.46 1.65,-4.90 C1.90,-3.40 0.35,-2.04 0,0Z" transform="rotate(60)"/><path d="M0,0 C-0.35,-2.04 -1.90,-3.40 -1.65,-4.90 C-1.48,-6.46 -0.74,-6.80 0,-6.80 C0.74,-6.80 1.48,-6.46 1.65,-4.90 C1.90,-3.40 0.35,-2.04 0,0Z" transform="rotate(120)"/><path d="M0,0 C-0.35,-2.04 -1.90,-3.40 -1.65,-4.90 C-1.48,-6.46 -0.74,-6.80 0,-6.80 C0.74,-6.80 1.48,-6.46 1.65,-4.90 C1.90,-3.40 0.35,-2.04 0,0Z" transform="rotate(180)"/><path d="M0,0 C-0.35,-2.04 -1.90,-3.40 -1.65,-4.90 C-1.48,-6.46 -0.74,-6.80 0,-6.80 C0.74,-6.80 1.48,-6.46 1.65,-4.90 C1.90,-3.40 0.35,-2.04 0,0Z" transform="rotate(240)"/><path d="M0,0 C-0.35,-2.04 -1.90,-3.40 -1.65,-4.90 C-1.48,-6.46 -0.74,-6.80 0,-6.80 C0.74,-6.80 1.48,-6.46 1.65,-4.90 C1.90,-3.40 0.35,-2.04 0,0Z" transform="rotate(300)"/></g>
<line x1="150.70" y1="770.60" x2="184.60" y2="770.60" stroke="#ED1C24" stroke-width="4.5" stroke-linecap="butt"/>
<text x="203.43" y="779.40" style="font-family:'Liberation Serif';font-weight:bold;font-style:normal;font-size:30px" fill="#000" textLength="165.14" lengthAdjust="spacingAndGlyphs">rPoCXCL10</text>
<line x1="154.30" y1="809.20" x2="187.30" y2="809.20" stroke="#7F7F7F" stroke-width="4.5" stroke-linecap="butt"/>
<text x="206.28" y="818.70" style="font-family:'Liberation Serif';font-weight:bold;font-style:normal;font-size:30px" fill="#000" textLength="101.03" lengthAdjust="spacingAndGlyphs">Control</text>
<line x1="155.70" y1="848.40" x2="189.00" y2="848.40" stroke="#000" stroke-width="4.5" stroke-linecap="butt"/>
<text x="208.77" y="857.00" style="font-family:'Liberation Serif';font-weight:bold;font-style:normal;font-size:30px" fill="#000" textLength="84.89" lengthAdjust="spacingAndGlyphs">rSumo</text>
<line x1="858.70" y1="756.30" x2="858.70" y2="1073.10" stroke="#000" stroke-width="3.0" stroke-linecap="butt"/>
<line x1="850.20" y1="757.80" x2="858.70" y2="757.80" stroke="#000" stroke-width="3.0" stroke-linecap="butt"/>
<line x1="850.20" y1="836.25" x2="858.70" y2="836.25" stroke="#000" stroke-width="3.0" stroke-linecap="butt"/>
<line x1="850.20" y1="914.70" x2="858.70" y2="914.70" stroke="#000" stroke-width="3.0" stroke-linecap="butt"/>
<line x1="850.20" y1="993.15" x2="858.70" y2="993.15" stroke="#000" stroke-width="3.0" stroke-linecap="butt"/>
<line x1="850.20" y1="1071.60" x2="858.70" y2="1071.60" stroke="#000" stroke-width="3.0" stroke-linecap="butt"/>
<line x1="850.20" y1="1071.60" x2="1340.00" y2="1071.60" stroke="#000" stroke-width="3.0" stroke-linecap="butt"/>
<line x1="881.40" y1="1071.60" x2="881.40" y2="1080.60" stroke="#000" stroke-width="3.0" stroke-linecap="butt"/>
<line x1="924.92" y1="1071.60" x2="924.92" y2="1080.60" stroke="#000" stroke-width="3.0" stroke-linecap="butt"/>
<line x1="968.44" y1="1071.60" x2="968.44" y2="1080.60" stroke="#000" stroke-width="3.0" stroke-linecap="butt"/>
<line x1="1011.96" y1="1071.60" x2="1011.96" y2="1080.60" stroke="#000" stroke-width="3.0" stroke-linecap="butt"/>
<line x1="1055.48" y1="1071.60" x2="1055.48" y2="1080.60" stroke="#000" stroke-width="3.0" stroke-linecap="butt"/>
<line x1="1099.00" y1="1071.60" x2="1099.00" y2="1080.60" stroke="#000" stroke-width="3.0" stroke-linecap="butt"/>
<line x1="1142.52" y1="1071.60" x2="1142.52" y2="1080.60" stroke="#000" stroke-width="3.0" stroke-linecap="butt"/>
<line x1="1186.04" y1="1071.60" x2="1186.04" y2="1080.60" stroke="#000" stroke-width="3.0" stroke-linecap="butt"/>
<line x1="1229.56" y1="1071.60" x2="1229.56" y2="1080.60" stroke="#000" stroke-width="3.0" stroke-linecap="butt"/>
<line x1="1273.08" y1="1071.60" x2="1273.08" y2="1080.60" stroke="#000" stroke-width="3.0" stroke-linecap="butt"/>
<line x1="1316.60" y1="1071.60" x2="1316.60" y2="1080.60" stroke="#000" stroke-width="3.0" stroke-linecap="butt"/>
<text x="801.24" y="768.70" style="font-family:'Liberation Serif';font-weight:bold;font-style:normal;font-size:36px" fill="#000">2.0</text>
<text x="801.06" y="847.15" style="font-family:'Liberation Serif';font-weight:bold;font-style:normal;font-size:36px" fill="#000">1.5</text>
<text x="801.24" y="925.60" style="font-family:'Liberation Serif';font-weight:bold;font-style:normal;font-size:36px" fill="#000">1.0</text>
<text x="801.06" y="1004.05" style="font-family:'Liberation Serif';font-weight:bold;font-style:normal;font-size:36px" fill="#000">0.5</text>
<text x="801.24" y="1082.50" style="font-family:'Liberation Serif';font-weight:bold;font-style:normal;font-size:36px" fill="#000">0.0</text>
<text x="872.40" y="1114.20" style="font-family:'Liberation Serif';font-weight:bold;font-style:normal;font-size:36px" fill="#000">0</text>
<text x="915.92" y="1114.20" style="font-family:'Liberation Serif';font-weight:bold;font-style:normal;font-size:36px" fill="#000">2</text>
<text x="959.53" y="1114.20" style="font-family:'Liberation Serif';font-weight:bold;font-style:normal;font-size:36px" fill="#000">4</text>
<text x="1002.87" y="1114.20" style="font-family:'Liberation Serif';font-weight:bold;font-style:normal;font-size:36px" fill="#000">5</text>
<text x="1046.39" y="1114.20" style="font-family:'Liberation Serif';font-weight:bold;font-style:normal;font-size:36px" fill="#000">6</text>
<text x="1089.46" y="1114.20" style="font-family:'Liberation Serif';font-weight:bold;font-style:normal;font-size:36px" fill="#000">7</text>
<text x="1133.52" y="1114.20" style="font-family:'Liberation Serif';font-weight:bold;font-style:normal;font-size:36px" fill="#000">8</text>
<text x="1177.22" y="1114.20" style="font-family:'Liberation Serif';font-weight:bold;font-style:normal;font-size:36px" fill="#000">9</text>
<text x="1210.84" y="1114.20" style="font-family:'Liberation Serif';font-weight:bold;font-style:normal;font-size:36px" fill="#000">10</text>
<text x="1255.53" y="1114.20" style="font-family:'Liberation Serif';font-weight:bold;font-style:normal;font-size:36px" fill="#000">11</text>
<text x="1297.88" y="1114.20" style="font-family:'Liberation Serif';font-weight:bold;font-style:normal;font-size:36px" fill="#000">12</text>
<text x="1034.37" y="1158.00" style="font-family:'Liberation Serif';font-weight:bold;font-style:normal;font-size:37px" fill="#000" textLength="129.47" lengthAdjust="spacingAndGlyphs">Time (h)</text>
<text x="997.33" y="689.80" style="font-family:'Liberation Serif';font-weight:bold;font-style:italic;font-size:51px" fill="#000" textLength="209.41" lengthAdjust="spacingAndGlyphs">V. harveyi</text>
<text transform="translate(779.90,954.94) rotate(-90)" x="0" y="0" style="font-family:'Liberation Serif';font-weight:bold;font-style:normal;font-size:37px" fill="#000" textLength="52.31" lengthAdjust="spacingAndGlyphs">OD</text>
<text transform="translate(788.20,902.61) rotate(-90)" x="0" y="0" style="font-family:'Liberation Serif';font-weight:bold;font-size:26px;letter-spacing:1.72px" fill="#000">600</text>
<line x1="1099.00" y1="884.89" x2="1099.00" y2="892.73" stroke="#000" stroke-width="1.6" stroke-linecap="butt"/>
<line x1="1096.00" y1="884.89" x2="1102.00" y2="884.89" stroke="#000" stroke-width="1.6" stroke-linecap="butt"/>
<line x1="1096.00" y1="892.73" x2="1102.00" y2="892.73" stroke="#000" stroke-width="1.6" stroke-linecap="butt"/>
<line x1="1142.52" y1="842.53" x2="1142.52" y2="855.08" stroke="#000" stroke-width="1.6" stroke-linecap="butt"/>
<line x1="1139.52" y1="842.53" x2="1145.52" y2="842.53" stroke="#000" stroke-width="1.6" stroke-linecap="butt"/>
<line x1="1139.52" y1="855.08" x2="1145.52" y2="855.08" stroke="#000" stroke-width="1.6" stroke-linecap="butt"/>
<line x1="1186.04" y1="809.58" x2="1186.04" y2="823.70" stroke="#000" stroke-width="1.6" stroke-linecap="butt"/>
<line x1="1183.04" y1="809.58" x2="1189.04" y2="809.58" stroke="#000" stroke-width="1.6" stroke-linecap="butt"/>
<line x1="1183.04" y1="823.70" x2="1189.04" y2="823.70" stroke="#000" stroke-width="1.6" stroke-linecap="butt"/>
<line x1="1229.56" y1="797.02" x2="1229.56" y2="818.99" stroke="#000" stroke-width="1.6" stroke-linecap="butt"/>
<line x1="1226.56" y1="797.02" x2="1232.56" y2="797.02" stroke="#000" stroke-width="1.6" stroke-linecap="butt"/>
<line x1="1226.56" y1="818.99" x2="1232.56" y2="818.99" stroke="#000" stroke-width="1.6" stroke-linecap="butt"/>
<line x1="1273.08" y1="787.61" x2="1273.08" y2="804.87" stroke="#000" stroke-width="1.6" stroke-linecap="butt"/>
<line x1="1270.08" y1="787.61" x2="1276.08" y2="787.61" stroke="#000" stroke-width="1.6" stroke-linecap="butt"/>
<line x1="1270.08" y1="804.87" x2="1276.08" y2="804.87" stroke="#000" stroke-width="1.6" stroke-linecap="butt"/>
<polyline points="881.40,1071.60 924.92,1070.82 968.44,1057.48 1011.96,994.72 1055.48,936.67 1099.00,888.50 1142.52,848.96 1186.04,816.48 1229.56,808.01 1273.08,796.71 1316.60,793.89" fill="none" stroke="#000" stroke-width="4.2" stroke-linejoin="round" stroke-linecap="round"/>
<line x1="1229.56" y1="809.58" x2="1229.56" y2="820.56" stroke="#7F7F7F" stroke-width="1.6" stroke-linecap="butt"/>
<line x1="1226.56" y1="809.58" x2="1232.56" y2="809.58" stroke="#7F7F7F" stroke-width="1.6" stroke-linecap="butt"/>
<line x1="1226.56" y1="820.56" x2="1232.56" y2="820.56" stroke="#7F7F7F" stroke-width="1.6" stroke-linecap="butt"/>
<line x1="1273.08" y1="793.89" x2="1273.08" y2="804.87" stroke="#7F7F7F" stroke-width="1.6" stroke-linecap="butt"/>
<line x1="1270.08" y1="793.89" x2="1276.08" y2="793.89" stroke="#7F7F7F" stroke-width="1.6" stroke-linecap="butt"/>
<line x1="1270.08" y1="804.87" x2="1276.08" y2="804.87" stroke="#7F7F7F" stroke-width="1.6" stroke-linecap="butt"/>
<line x1="1316.60" y1="784.47" x2="1316.60" y2="795.46" stroke="#7F7F7F" stroke-width="1.6" stroke-linecap="butt"/>
<line x1="1313.60" y1="784.47" x2="1319.60" y2="784.47" stroke="#7F7F7F" stroke-width="1.6" stroke-linecap="butt"/>
<line x1="1313.60" y1="795.46" x2="1319.60" y2="795.46" stroke="#7F7F7F" stroke-width="1.6" stroke-linecap="butt"/>
<polyline points="881.40,1071.60 924.92,1070.82 968.44,1057.48 1011.96,994.72 1055.48,957.69 1099.00,896.97 1142.52,860.26 1186.04,834.84 1229.56,815.07 1273.08,799.54 1316.60,789.65" fill="none" stroke="#7F7F7F" stroke-width="4.2" stroke-linejoin="round" stroke-linecap="round"/>
<line x1="1273.08" y1="793.89" x2="1273.08" y2="814.28" stroke="#ED1C24" stroke-width="1.6" stroke-linecap="butt"/>
<line x1="1270.08" y1="793.89" x2="1276.08" y2="793.89" stroke="#ED1C24" stroke-width="1.6" stroke-linecap="butt"/>
<line x1="1270.08" y1="814.28" x2="1276.08" y2="814.28" stroke="#ED1C24" stroke-width="1.6" stroke-linecap="butt"/>
<line x1="1316.60" y1="782.90" x2="1316.60" y2="812.71" stroke="#ED1C24" stroke-width="1.6" stroke-linecap="butt"/>
<line x1="1313.60" y1="782.90" x2="1319.60" y2="782.90" stroke="#ED1C24" stroke-width="1.6" stroke-linecap="butt"/>
<line x1="1313.60" y1="812.71" x2="1319.60" y2="812.71" stroke="#ED1C24" stroke-width="1.6" stroke-linecap="butt"/>
<line x1="1099.00" y1="919.41" x2="1099.00" y2="927.25" stroke="#ED1C24" stroke-width="1.6" stroke-linecap="butt"/>
<line x1="1096.00" y1="919.41" x2="1102.00" y2="919.41" stroke="#ED1C24" stroke-width="1.6" stroke-linecap="butt"/>
<line x1="1096.00" y1="927.25" x2="1102.00" y2="927.25" stroke="#ED1C24" stroke-width="1.6" stroke-linecap="butt"/>
<line x1="1142.52" y1="869.20" x2="1142.52" y2="877.04" stroke="#ED1C24" stroke-width="1.6" stroke-linecap="butt"/>
<line x1="1139.52" y1="869.20" x2="1145.52" y2="869.20" stroke="#ED1C24" stroke-width="1.6" stroke-linecap="butt"/>
<line x1="1139.52" y1="877.04" x2="1145.52" y2="877.04" stroke="#ED1C24" stroke-width="1.6" stroke-linecap="butt"/>
<polyline points="881.40,1070.97 924.92,1070.97 968.44,1069.72 1011.96,1050.42 1055.48,997.23 1099.00,923.80 1142.52,872.96 1186.04,836.25 1229.56,826.37 1273.08,803.77 1316.60,796.71" fill="none" stroke="#ED1C24" stroke-width="4.2" stroke-linejoin="round" stroke-linecap="round"/>
<g fill="#000" transform="translate(979.40,1080.50)"><path d="M0,0 C-0.35,-2.04 -1.90,-3.40 -1.65,-4.90 C-1.48,-6.46 -0.74,-6.80 0,-6.80 C0.74,-6.80 1.48,-6.46 1.65,-4.90 C1.90,-3.40 0.35,-2.04 0,0Z" transform="rotate(0)"/><path d="M0,0 C-0.35,-2.04 -1.90,-3.40 -1.65,-4.90 C-1.48,-6.46 -0.74,-6.80 0,-6.80 C0.74,-6.80 1.48,-6.46 1.65,-4.90 C1.90,-3.40 0.35,-2.04 0,0Z" transform="rotate(60)"/><path d="M0,0 C-0.35,-2.04 -1.90,-3.40 -1.65,-4.90 C-1.48,-6.46 -0.74,-6.80 0,-6.80 C0.74,-6.80 1.48,-6.46 1.65,-4.90 C1.90,-3.40 0.35,-2.04 0,0Z" transform="rotate(120)"/><path d="M0,0 C-0.35,-2.04 -1.90,-3.40 -1.65,-4.90 C-1.48,-6.46 -0.74,-6.80 0,-6.80 C0.74,-6.80 1.48,-6.46 1.65,-4.90 C1.90,-3.40 0.35,-2.04 0,0Z" transform="rotate(180)"/><path d="M0,0 C-0.35,-2.04 -1.90,-3.40 -1.65,-4.90 C-1.48,-6.46 -0.74,-6.80 0,-6.80 C0.74,-6.80 1.48,-6.46 1.65,-4.90 C1.90,-3.40 0.35,-2.04 0,0Z" transform="rotate(240)"/><path d="M0,0 C-0.35,-2.04 -1.90,-3.40 -1.65,-4.90 C-1.48,-6.46 -0.74,-6.80 0,-6.80 C0.74,-6.80 1.48,-6.46 1.65,-4.90 C1.90,-3.40 0.35,-2.04 0,0Z" transform="rotate(300)"/></g>
<g fill="#000" transform="translate(1018.00,1059.40)"><path d="M0,0 C-0.35,-2.04 -1.90,-3.40 -1.65,-4.90 C-1.48,-6.46 -0.74,-6.80 0,-6.80 C0.74,-6.80 1.48,-6.46 1.65,-4.90 C1.90,-3.40 0.35,-2.04 0,0Z" transform="rotate(0)"/><path d="M0,0 C-0.35,-2.04 -1.90,-3.40 -1.65,-4.90 C-1.48,-6.46 -0.74,-6.80 0,-6.80 C0.74,-6.80 1.48,-6.46 1.65,-4.90 C1.90,-3.40 0.35,-2.04 0,0Z" transform="rotate(60)"/><path d="M0,0 C-0.35,-2.04 -1.90,-3.40 -1.65,-4.90 C-1.48,-6.46 -0.74,-6.80 0,-6.80 C0.74,-6.80 1.48,-6.46 1.65,-4.90 C1.90,-3.40 0.35,-2.04 0,0Z" transform="rotate(120)"/><path d="M0,0 C-0.35,-2.04 -1.90,-3.40 -1.65,-4.90 C-1.48,-6.46 -0.74,-6.80 0,-6.80 C0.74,-6.80 1.48,-6.46 1.65,-4.90 C1.90,-3.40 0.35,-2.04 0,0Z" transform="rotate(180)"/><path d="M0,0 C-0.35,-2.04 -1.90,-3.40 -1.65,-4.90 C-1.48,-6.46 -0.74,-6.80 0,-6.80 C0.74,-6.80 1.48,-6.46 1.65,-4.90 C1.90,-3.40 0.35,-2.04 0,0Z" transform="rotate(240)"/><path d="M0,0 C-0.35,-2.04 -1.90,-3.40 -1.65,-4.90 C-1.48,-6.46 -0.74,-6.80 0,-6.80 C0.74,-6.80 1.48,-6.46 1.65,-4.90 C1.90,-3.40 0.35,-2.04 0,0Z" transform="rotate(300)"/></g>
<g fill="#000" transform="translate(1055.90,1019.70)"><path d="M0,0 C-0.35,-2.04 -1.90,-3.40 -1.65,-4.90 C-1.48,-6.46 -0.74,-6.80 0,-6.80 C0.74,-6.80 1.48,-6.46 1.65,-4.90 C1.90,-3.40 0.35,-2.04 0,0Z" transform="rotate(0)"/><path d="M0,0 C-0.35,-2.04 -1.90,-3.40 -1.65,-4.90 C-1.48,-6.46 -0.74,-6.80 0,-6.80 C0.74,-6.80 1.48,-6.46 1.65,-4.90 C1.90,-3.40 0.35,-2.04 0,0Z" transform="rotate(60)"/><path d="M0,0 C-0.35,-2.04 -1.90,-3.40 -1.65,-4.90 C-1.48,-6.46 -0.74,-6.80 0,-6.80 C0.74,-6.80 1.48,-6.46 1.65,-4.90 C1.90,-3.40 0.35,-2.04 0,0Z" transform="rotate(120)"/><path d="M0,0 C-0.35,-2.04 -1.90,-3.40 -1.65,-4.90 C-1.48,-6.46 -0.74,-6.80 0,-6.80 C0.74,-6.80 1.48,-6.46 1.65,-4.90 C1.90,-3.40 0.35,-2.04 0,0Z" transform="rotate(180)"/><path d="M0,0 C-0.35,-2.04 -1.90,-3.40 -1.65,-4.90 C-1.48,-6.46 -0.74,-6.80 0,-6.80 C0.74,-6.80 1.48,-6.46 1.65,-4.90 C1.90,-3.40 0.35,-2.04 0,0Z" transform="rotate(240)"/><path d="M0,0 C-0.35,-2.04 -1.90,-3.40 -1.65,-4.90 C-1.48,-6.46 -0.74,-6.80 0,-6.80 C0.74,-6.80 1.48,-6.46 1.65,-4.90 C1.90,-3.40 0.35,-2.04 0,0Z" transform="rotate(300)"/></g>
<g fill="#000" transform="translate(1101.00,952.00)"><path d="M0,0 C-0.35,-2.04 -1.90,-3.40 -1.65,-4.90 C-1.48,-6.46 -0.74,-6.80 0,-6.80 C0.74,-6.80 1.48,-6.46 1.65,-4.90 C1.90,-3.40 0.35,-2.04 0,0Z" transform="rotate(0)"/><path d="M0,0 C-0.35,-2.04 -1.90,-3.40 -1.65,-4.90 C-1.48,-6.46 -0.74,-6.80 0,-6.80 C0.74,-6.80 1.48,-6.46 1.65,-4.90 C1.90,-3.40 0.35,-2.04 0,0Z" transform="rotate(60)"/><path d="M0,0 C-0.35,-2.04 -1.90,-3.40 -1.65,-4.90 C-1.48,-6.46 -0.74,-6.80 0,-6.80 C0.74,-6.80 1.48,-6.46 1.65,-4.90 C1.90,-3.40 0.35,-2.04 0,0Z" transform="rotate(120)"/><path d="M0,0 C-0.35,-2.04 -1.90,-3.40 -1.65,-4.90 C-1.48,-6.46 -0.74,-6.80 0,-6.80 C0.74,-6.80 1.48,-6.46 1.65,-4.90 C1.90,-3.40 0.35,-2.04 0,0Z" transform="rotate(180)"/><path d="M0,0 C-0.35,-2.04 -1.90,-3.40 -1.65,-4.90 C-1.48,-6.46 -0.74,-6.80 0,-6.80 C0.74,-6.80 1.48,-6.46 1.65,-4.90 C1.90,-3.40 0.35,-2.04 0,0Z" transform="rotate(240)"/><path d="M0,0 C-0.35,-2.04 -1.90,-3.40 -1.65,-4.90 C-1.48,-6.46 -0.74,-6.80 0,-6.80 C0.74,-6.80 1.48,-6.46 1.65,-4.90 C1.90,-3.40 0.35,-2.04 0,0Z" transform="rotate(300)"/></g>
<g fill="#000" transform="translate(1144.20,895.00)"><path d="M0,0 C-0.35,-2.04 -1.90,-3.40 -1.65,-4.90 C-1.48,-6.46 -0.74,-6.80 0,-6.80 C0.74,-6.80 1.48,-6.46 1.65,-4.90 C1.90,-3.40 0.35,-2.04 0,0Z" transform="rotate(0)"/><path d="M0,0 C-0.35,-2.04 -1.90,-3.40 -1.65,-4.90 C-1.48,-6.46 -0.74,-6.80 0,-6.80 C0.74,-6.80 1.48,-6.46 1.65,-4.90 C1.90,-3.40 0.35,-2.04 0,0Z" transform="rotate(60)"/><path d="M0,0 C-0.35,-2.04 -1.90,-3.40 -1.65,-4.90 C-1.48,-6.46 -0.74,-6.80 0,-6.80 C0.74,-6.80 1.48,-6.46 1.65,-4.90 C1.90,-3.40 0.35,-2.04 0,0Z" transform="rotate(120)"/><path d="M0,0 C-0.35,-2.04 -1.90,-3.40 -1.65,-4.90 C-1.48,-6.46 -0.74,-6.80 0,-6.80 C0.74,-6.80 1.48,-6.46 1.65,-4.90 C1.90,-3.40 0.35,-2.04 0,0Z" transform="rotate(180)"/><path d="M0,0 C-0.35,-2.04 -1.90,-3.40 -1.65,-4.90 C-1.48,-6.46 -0.74,-6.80 0,-6.80 C0.74,-6.80 1.48,-6.46 1.65,-4.90 C1.90,-3.40 0.35,-2.04 0,0Z" transform="rotate(240)"/><path d="M0,0 C-0.35,-2.04 -1.90,-3.40 -1.65,-4.90 C-1.48,-6.46 -0.74,-6.80 0,-6.80 C0.74,-6.80 1.48,-6.46 1.65,-4.90 C1.90,-3.40 0.35,-2.04 0,0Z" transform="rotate(300)"/></g>
<line x1="871.60" y1="778.30" x2="906.00" y2="778.30" stroke="#ED1C24" stroke-width="4.5" stroke-linecap="butt"/>
<text x="924.84" y="787.10" style="font-family:'Liberation Serif';font-weight:bold;font-style:normal;font-size:30px" fill="#000" textLength="164.53" lengthAdjust="spacingAndGlyphs">rPoCXCL10</text>
<line x1="873.40" y1="817.80" x2="907.30" y2="817.80" stroke="#7F7F7F" stroke-width="4.5" stroke-linecap="butt"/>
<text x="925.88" y="826.30" style="font-family:'Liberation Serif';font-weight:bold;font-style:normal;font-size:30px" fill="#000" textLength="100.93" lengthAdjust="spacingAndGlyphs">Control</text>
<line x1="873.40" y1="857.00" x2="907.30" y2="857.00" stroke="#000" stroke-width="4.5" stroke-linecap="butt"/>
<text x="926.66" y="865.00" style="font-family:'Liberation Serif';font-weight:bold;font-style:normal;font-size:30px" fill="#000" textLength="85.19" lengthAdjust="spacingAndGlyphs">rSumo</text>
<line x1="137.50" y1="1297.90" x2="137.50" y2="1604.70" stroke="#000" stroke-width="3.0" stroke-linecap="butt"/>
<line x1="129.30" y1="1299.40" x2="137.50" y2="1299.40" stroke="#000" stroke-width="3.0" stroke-linecap="butt"/>
<line x1="129.30" y1="1375.35" x2="137.50" y2="1375.35" stroke="#000" stroke-width="3.0" stroke-linecap="butt"/>
<line x1="129.30" y1="1451.30" x2="137.50" y2="1451.30" stroke="#000" stroke-width="3.0" stroke-linecap="butt"/>
<line x1="129.30" y1="1527.25" x2="137.50" y2="1527.25" stroke="#000" stroke-width="3.0" stroke-linecap="butt"/>
<line x1="129.30" y1="1603.20" x2="137.50" y2="1603.20" stroke="#000" stroke-width="3.0" stroke-linecap="butt"/>
<line x1="129.30" y1="1603.20" x2="618.40" y2="1603.20" stroke="#000" stroke-width="3.0" stroke-linecap="butt"/>
<line x1="159.60" y1="1603.20" x2="159.60" y2="1612.20" stroke="#000" stroke-width="3.0" stroke-linecap="butt"/>
<line x1="203.30" y1="1603.20" x2="203.30" y2="1612.20" stroke="#000" stroke-width="3.0" stroke-linecap="butt"/>
<line x1="247.00" y1="1603.20" x2="247.00" y2="1612.20" stroke="#000" stroke-width="3.0" stroke-linecap="butt"/>
<line x1="290.70" y1="1603.20" x2="290.70" y2="1612.20" stroke="#000" stroke-width="3.0" stroke-linecap="butt"/>
<line x1="334.40" y1="1603.20" x2="334.40" y2="1612.20" stroke="#000" stroke-width="3.0" stroke-linecap="butt"/>
<line x1="378.10" y1="1603.20" x2="378.10" y2="1612.20" stroke="#000" stroke-width="3.0" stroke-linecap="butt"/>
<line x1="421.80" y1="1603.20" x2="421.80" y2="1612.20" stroke="#000" stroke-width="3.0" stroke-linecap="butt"/>
<line x1="465.50" y1="1603.20" x2="465.50" y2="1612.20" stroke="#000" stroke-width="3.0" stroke-linecap="butt"/>
<line x1="509.20" y1="1603.20" x2="509.20" y2="1612.20" stroke="#000" stroke-width="3.0" stroke-linecap="butt"/>
<line x1="552.90" y1="1603.20" x2="552.90" y2="1612.20" stroke="#000" stroke-width="3.0" stroke-linecap="butt"/>
<line x1="596.60" y1="1603.20" x2="596.60" y2="1612.20" stroke="#000" stroke-width="3.0" stroke-linecap="butt"/>
<text x="79.62" y="1310.30" style="font-family:'Liberation Serif';font-weight:bold;font-style:normal;font-size:36px" fill="#000">0.4</text>
<text x="80.16" y="1386.25" style="font-family:'Liberation Serif';font-weight:bold;font-style:normal;font-size:36px" fill="#000">0.3</text>
<text x="80.34" y="1462.20" style="font-family:'Liberation Serif';font-weight:bold;font-style:normal;font-size:36px" fill="#000">0.2</text>
<text x="80.70" y="1538.15" style="font-family:'Liberation Serif';font-weight:bold;font-style:normal;font-size:36px" fill="#000">0.1</text>
<text x="80.34" y="1614.10" style="font-family:'Liberation Serif';font-weight:bold;font-style:normal;font-size:36px" fill="#000">0.0</text>
<text x="150.60" y="1644.20" style="font-family:'Liberation Serif';font-weight:bold;font-style:normal;font-size:36px" fill="#000">0</text>
<text x="194.30" y="1644.20" style="font-family:'Liberation Serif';font-weight:bold;font-style:normal;font-size:36px" fill="#000">2</text>
<text x="238.09" y="1644.20" style="font-family:'Liberation Serif';font-weight:bold;font-style:normal;font-size:36px" fill="#000">4</text>
<text x="281.61" y="1644.20" style="font-family:'Liberation Serif';font-weight:bold;font-style:normal;font-size:36px" fill="#000">5</text>
<text x="325.31" y="1644.20" style="font-family:'Liberation Serif';font-weight:bold;font-style:normal;font-size:36px" fill="#000">6</text>
<text x="368.56" y="1644.20" style="font-family:'Liberation Serif';font-weight:bold;font-style:normal;font-size:36px" fill="#000">7</text>
<text x="412.80" y="1644.20" style="font-family:'Liberation Serif';font-weight:bold;font-style:normal;font-size:36px" fill="#000">8</text>
<text x="456.68" y="1644.20" style="font-family:'Liberation Serif';font-weight:bold;font-style:normal;font-size:36px" fill="#000">9</text>
<text x="490.48" y="1644.20" style="font-family:'Liberation Serif';font-weight:bold;font-style:normal;font-size:36px" fill="#000">10</text>
<text x="535.35" y="1644.20" style="font-family:'Liberation Serif';font-weight:bold;font-style:normal;font-size:36px" fill="#000">11</text>
<text x="577.88" y="1644.20" style="font-family:'Liberation Serif';font-weight:bold;font-style:normal;font-size:36px" fill="#000">12</text>
<text x="313.77" y="1687.00" style="font-family:'Liberation Serif';font-weight:bold;font-style:normal;font-size:37px" fill="#000" textLength="129.47" lengthAdjust="spacingAndGlyphs">Time (h)</text>
<text x="289.35" y="1258.70" style="font-family:'Liberation Serif';font-weight:bold;font-style:italic;font-size:51px" fill="#000" textLength="167.96" lengthAdjust="spacingAndGlyphs">E. tarda</text>
<text transform="translate(58.50,1491.24) rotate(-90)" x="0" y="0" style="font-family:'Liberation Serif';font-weight:bold;font-style:normal;font-size:37px" fill="#000" textLength="52.31" lengthAdjust="spacingAndGlyphs">OD</text>
<text transform="translate(66.80,1438.91) rotate(-90)" x="0" y="0" style="font-family:'Liberation Serif';font-weight:bold;font-size:26px;letter-spacing:0.08px" fill="#000">600</text>
<line x1="421.80" y1="1556.87" x2="421.80" y2="1582.69" stroke="#000" stroke-width="1.6" stroke-linecap="butt"/>
<line x1="418.80" y1="1556.87" x2="424.80" y2="1556.87" stroke="#000" stroke-width="1.6" stroke-linecap="butt"/>
<line x1="418.80" y1="1582.69" x2="424.80" y2="1582.69" stroke="#000" stroke-width="1.6" stroke-linecap="butt"/>
<line x1="465.50" y1="1547.00" x2="465.50" y2="1554.59" stroke="#000" stroke-width="1.6" stroke-linecap="butt"/>
<line x1="462.50" y1="1547.00" x2="468.50" y2="1547.00" stroke="#000" stroke-width="1.6" stroke-linecap="butt"/>
<line x1="462.50" y1="1554.59" x2="468.50" y2="1554.59" stroke="#000" stroke-width="1.6" stroke-linecap="butt"/>
<line x1="509.20" y1="1451.30" x2="509.20" y2="1515.10" stroke="#000" stroke-width="1.6" stroke-linecap="butt"/>
<line x1="506.20" y1="1451.30" x2="512.20" y2="1451.30" stroke="#000" stroke-width="1.6" stroke-linecap="butt"/>
<line x1="506.20" y1="1515.10" x2="512.20" y2="1515.10" stroke="#000" stroke-width="1.6" stroke-linecap="butt"/>
<line x1="552.90" y1="1341.17" x2="552.90" y2="1393.58" stroke="#000" stroke-width="1.6" stroke-linecap="butt"/>
<line x1="549.90" y1="1341.17" x2="555.90" y2="1341.17" stroke="#000" stroke-width="1.6" stroke-linecap="butt"/>
<line x1="549.90" y1="1393.58" x2="555.90" y2="1393.58" stroke="#000" stroke-width="1.6" stroke-linecap="butt"/>
<line x1="596.60" y1="1323.70" x2="596.60" y2="1398.89" stroke="#000" stroke-width="1.6" stroke-linecap="butt"/>
<line x1="593.60" y1="1323.70" x2="599.60" y2="1323.70" stroke="#000" stroke-width="1.6" stroke-linecap="butt"/>
<line x1="593.60" y1="1398.89" x2="599.60" y2="1398.89" stroke="#000" stroke-width="1.6" stroke-linecap="butt"/>
<polyline points="159.60,1597.12 203.30,1596.36 247.00,1594.85 290.70,1591.05 334.40,1582.92 378.10,1586.49 421.80,1569.78 465.50,1550.79 509.20,1483.20 552.90,1367.76 596.60,1361.68" fill="none" stroke="#000" stroke-width="4.2" stroke-linejoin="round" stroke-linecap="round"/>
<line x1="378.10" y1="1571.30" x2="378.10" y2="1582.69" stroke="#7F7F7F" stroke-width="1.6" stroke-linecap="butt"/>
<line x1="375.10" y1="1571.30" x2="381.10" y2="1571.30" stroke="#7F7F7F" stroke-width="1.6" stroke-linecap="butt"/>
<line x1="375.10" y1="1582.69" x2="381.10" y2="1582.69" stroke="#7F7F7F" stroke-width="1.6" stroke-linecap="butt"/>
<line x1="421.80" y1="1544.72" x2="421.80" y2="1559.15" stroke="#7F7F7F" stroke-width="1.6" stroke-linecap="butt"/>
<line x1="418.80" y1="1544.72" x2="424.80" y2="1544.72" stroke="#7F7F7F" stroke-width="1.6" stroke-linecap="butt"/>
<line x1="418.80" y1="1559.15" x2="424.80" y2="1559.15" stroke="#7F7F7F" stroke-width="1.6" stroke-linecap="butt"/>
<line x1="509.20" y1="1492.31" x2="509.20" y2="1516.62" stroke="#7F7F7F" stroke-width="1.6" stroke-linecap="butt"/>
<line x1="506.20" y1="1492.31" x2="512.20" y2="1492.31" stroke="#7F7F7F" stroke-width="1.6" stroke-linecap="butt"/>
<line x1="506.20" y1="1516.62" x2="512.20" y2="1516.62" stroke="#7F7F7F" stroke-width="1.6" stroke-linecap="butt"/>
<line x1="552.90" y1="1328.26" x2="552.90" y2="1385.98" stroke="#7F7F7F" stroke-width="1.6" stroke-linecap="butt"/>
<line x1="549.90" y1="1328.26" x2="555.90" y2="1328.26" stroke="#7F7F7F" stroke-width="1.6" stroke-linecap="butt"/>
<line x1="549.90" y1="1385.98" x2="555.90" y2="1385.98" stroke="#7F7F7F" stroke-width="1.6" stroke-linecap="butt"/>
<line x1="596.60" y1="1316.87" x2="596.60" y2="1384.46" stroke="#7F7F7F" stroke-width="1.6" stroke-linecap="butt"/>
<line x1="593.60" y1="1316.87" x2="599.60" y2="1316.87" stroke="#7F7F7F" stroke-width="1.6" stroke-linecap="butt"/>
<line x1="593.60" y1="1384.46" x2="599.60" y2="1384.46" stroke="#7F7F7F" stroke-width="1.6" stroke-linecap="butt"/>
<polyline points="159.60,1597.12 203.30,1596.36 247.00,1594.85 290.70,1589.53 334.40,1582.92 378.10,1577.00 421.80,1552.01 465.50,1547.30 509.20,1504.47 552.90,1357.12 596.60,1351.05" fill="none" stroke="#7F7F7F" stroke-width="4.2" stroke-linejoin="round" stroke-linecap="round"/>
<line x1="465.50" y1="1579.66" x2="465.50" y2="1586.49" stroke="#ED1C24" stroke-width="1.6" stroke-linecap="butt"/>
<line x1="462.50" y1="1579.66" x2="468.50" y2="1579.66" stroke="#ED1C24" stroke-width="1.6" stroke-linecap="butt"/>
<line x1="462.50" y1="1586.49" x2="468.50" y2="1586.49" stroke="#ED1C24" stroke-width="1.6" stroke-linecap="butt"/>
<line x1="509.20" y1="1558.39" x2="509.20" y2="1567.50" stroke="#ED1C24" stroke-width="1.6" stroke-linecap="butt"/>
<line x1="506.20" y1="1558.39" x2="512.20" y2="1558.39" stroke="#ED1C24" stroke-width="1.6" stroke-linecap="butt"/>
<line x1="506.20" y1="1567.50" x2="512.20" y2="1567.50" stroke="#ED1C24" stroke-width="1.6" stroke-linecap="butt"/>
<line x1="552.90" y1="1493.83" x2="552.90" y2="1544.72" stroke="#ED1C24" stroke-width="1.6" stroke-linecap="butt"/>
<line x1="549.90" y1="1493.83" x2="555.90" y2="1493.83" stroke="#ED1C24" stroke-width="1.6" stroke-linecap="butt"/>
<line x1="549.90" y1="1544.72" x2="555.90" y2="1544.72" stroke="#ED1C24" stroke-width="1.6" stroke-linecap="butt"/>
<line x1="596.60" y1="1455.86" x2="596.60" y2="1503.71" stroke="#ED1C24" stroke-width="1.6" stroke-linecap="butt"/>
<line x1="593.60" y1="1455.86" x2="599.60" y2="1455.86" stroke="#ED1C24" stroke-width="1.6" stroke-linecap="butt"/>
<line x1="593.60" y1="1503.71" x2="599.60" y2="1503.71" stroke="#ED1C24" stroke-width="1.6" stroke-linecap="butt"/>
<polyline points="159.60,1598.64 203.30,1597.88 247.00,1597.12 290.70,1595.61 334.40,1594.85 378.10,1594.85 421.80,1591.20 465.50,1582.92 509.20,1562.95 552.90,1518.90 596.60,1478.64" fill="none" stroke="#ED1C24" stroke-width="4.2" stroke-linejoin="round" stroke-linecap="round"/>
<g fill="#000" transform="translate(346.40,1610.30)"><path d="M0,0 C-0.35,-2.04 -1.90,-3.40 -1.65,-4.90 C-1.48,-6.46 -0.74,-6.80 0,-6.80 C0.74,-6.80 1.48,-6.46 1.65,-4.90 C1.90,-3.40 0.35,-2.04 0,0Z" transform="rotate(0)"/><path d="M0,0 C-0.35,-2.04 -1.90,-3.40 -1.65,-4.90 C-1.48,-6.46 -0.74,-6.80 0,-6.80 C0.74,-6.80 1.48,-6.46 1.65,-4.90 C1.90,-3.40 0.35,-2.04 0,0Z" transform="rotate(60)"/><path d="M0,0 C-0.35,-2.04 -1.90,-3.40 -1.65,-4.90 C-1.48,-6.46 -0.74,-6.80 0,-6.80 C0.74,-6.80 1.48,-6.46 1.65,-4.90 C1.90,-3.40 0.35,-2.04 0,0Z" transform="rotate(120)"/><path d="M0,0 C-0.35,-2.04 -1.90,-3.40 -1.65,-4.90 C-1.48,-6.46 -0.74,-6.80 0,-6.80 C0.74,-6.80 1.48,-6.46 1.65,-4.90 C1.90,-3.40 0.35,-2.04 0,0Z" transform="rotate(180)"/><path d="M0,0 C-0.35,-2.04 -1.90,-3.40 -1.65,-4.90 C-1.48,-6.46 -0.74,-6.80 0,-6.80 C0.74,-6.80 1.48,-6.46 1.65,-4.90 C1.90,-3.40 0.35,-2.04 0,0Z" transform="rotate(240)"/><path d="M0,0 C-0.35,-2.04 -1.90,-3.40 -1.65,-4.90 C-1.48,-6.46 -0.74,-6.80 0,-6.80 C0.74,-6.80 1.48,-6.46 1.65,-4.90 C1.90,-3.40 0.35,-2.04 0,0Z" transform="rotate(300)"/></g>
<g fill="#000" transform="translate(391.00,1610.30)"><path d="M0,0 C-0.35,-2.04 -1.90,-3.40 -1.65,-4.90 C-1.48,-6.46 -0.74,-6.80 0,-6.80 C0.74,-6.80 1.48,-6.46 1.65,-4.90 C1.90,-3.40 0.35,-2.04 0,0Z" transform="rotate(0)"/><path d="M0,0 C-0.35,-2.04 -1.90,-3.40 -1.65,-4.90 C-1.48,-6.46 -0.74,-6.80 0,-6.80 C0.74,-6.80 1.48,-6.46 1.65,-4.90 C1.90,-3.40 0.35,-2.04 0,0Z" transform="rotate(60)"/><path d="M0,0 C-0.35,-2.04 -1.90,-3.40 -1.65,-4.90 C-1.48,-6.46 -0.74,-6.80 0,-6.80 C0.74,-6.80 1.48,-6.46 1.65,-4.90 C1.90,-3.40 0.35,-2.04 0,0Z" transform="rotate(120)"/><path d="M0,0 C-0.35,-2.04 -1.90,-3.40 -1.65,-4.90 C-1.48,-6.46 -0.74,-6.80 0,-6.80 C0.74,-6.80 1.48,-6.46 1.65,-4.90 C1.90,-3.40 0.35,-2.04 0,0Z" transform="rotate(180)"/><path d="M0,0 C-0.35,-2.04 -1.90,-3.40 -1.65,-4.90 C-1.48,-6.46 -0.74,-6.80 0,-6.80 C0.74,-6.80 1.48,-6.46 1.65,-4.90 C1.90,-3.40 0.35,-2.04 0,0Z" transform="rotate(240)"/><path d="M0,0 C-0.35,-2.04 -1.90,-3.40 -1.65,-4.90 C-1.48,-6.46 -0.74,-6.80 0,-6.80 C0.74,-6.80 1.48,-6.46 1.65,-4.90 C1.90,-3.40 0.35,-2.04 0,0Z" transform="rotate(300)"/></g>
<g fill="#000" transform="translate(430.80,1610.30)"><path d="M0,0 C-0.35,-2.04 -1.90,-3.40 -1.65,-4.90 C-1.48,-6.46 -0.74,-6.80 0,-6.80 C0.74,-6.80 1.48,-6.46 1.65,-4.90 C1.90,-3.40 0.35,-2.04 0,0Z" transform="rotate(0)"/><path d="M0,0 C-0.35,-2.04 -1.90,-3.40 -1.65,-4.90 C-1.48,-6.46 -0.74,-6.80 0,-6.80 C0.74,-6.80 1.48,-6.46 1.65,-4.90 C1.90,-3.40 0.35,-2.04 0,0Z" transform="rotate(60)"/><path d="M0,0 C-0.35,-2.04 -1.90,-3.40 -1.65,-4.90 C-1.48,-6.46 -0.74,-6.80 0,-6.80 C0.74,-6.80 1.48,-6.46 1.65,-4.90 C1.90,-3.40 0.35,-2.04 0,0Z" transform="rotate(120)"/><path d="M0,0 C-0.35,-2.04 -1.90,-3.40 -1.65,-4.90 C-1.48,-6.46 -0.74,-6.80 0,-6.80 C0.74,-6.80 1.48,-6.46 1.65,-4.90 C1.90,-3.40 0.35,-2.04 0,0Z" transform="rotate(180)"/><path d="M0,0 C-0.35,-2.04 -1.90,-3.40 -1.65,-4.90 C-1.48,-6.46 -0.74,-6.80 0,-6.80 C0.74,-6.80 1.48,-6.46 1.65,-4.90 C1.90,-3.40 0.35,-2.04 0,0Z" transform="rotate(240)"/><path d="M0,0 C-0.35,-2.04 -1.90,-3.40 -1.65,-4.90 C-1.48,-6.46 -0.74,-6.80 0,-6.80 C0.74,-6.80 1.48,-6.46 1.65,-4.90 C1.90,-3.40 0.35,-2.04 0,0Z" transform="rotate(300)"/></g>
<g fill="#000" transform="translate(475.50,1593.60)"><path d="M0,0 C-0.35,-2.04 -1.90,-3.40 -1.65,-4.90 C-1.48,-6.46 -0.74,-6.80 0,-6.80 C0.74,-6.80 1.48,-6.46 1.65,-4.90 C1.90,-3.40 0.35,-2.04 0,0Z" transform="rotate(0)"/><path d="M0,0 C-0.35,-2.04 -1.90,-3.40 -1.65,-4.90 C-1.48,-6.46 -0.74,-6.80 0,-6.80 C0.74,-6.80 1.48,-6.46 1.65,-4.90 C1.90,-3.40 0.35,-2.04 0,0Z" transform="rotate(60)"/><path d="M0,0 C-0.35,-2.04 -1.90,-3.40 -1.65,-4.90 C-1.48,-6.46 -0.74,-6.80 0,-6.80 C0.74,-6.80 1.48,-6.46 1.65,-4.90 C1.90,-3.40 0.35,-2.04 0,0Z" transform="rotate(120)"/><path d="M0,0 C-0.35,-2.04 -1.90,-3.40 -1.65,-4.90 C-1.48,-6.46 -0.74,-6.80 0,-6.80 C0.74,-6.80 1.48,-6.46 1.65,-4.90 C1.90,-3.40 0.35,-2.04 0,0Z" transform="rotate(180)"/><path d="M0,0 C-0.35,-2.04 -1.90,-3.40 -1.65,-4.90 C-1.48,-6.46 -0.74,-6.80 0,-6.80 C0.74,-6.80 1.48,-6.46 1.65,-4.90 C1.90,-3.40 0.35,-2.04 0,0Z" transform="rotate(240)"/><path d="M0,0 C-0.35,-2.04 -1.90,-3.40 -1.65,-4.90 C-1.48,-6.46 -0.74,-6.80 0,-6.80 C0.74,-6.80 1.48,-6.46 1.65,-4.90 C1.90,-3.40 0.35,-2.04 0,0Z" transform="rotate(300)"/></g>
<g fill="#000" transform="translate(509.20,1583.00)"><path d="M0,0 C-0.35,-2.04 -1.90,-3.40 -1.65,-4.90 C-1.48,-6.46 -0.74,-6.80 0,-6.80 C0.74,-6.80 1.48,-6.46 1.65,-4.90 C1.90,-3.40 0.35,-2.04 0,0Z" transform="rotate(0)"/><path d="M0,0 C-0.35,-2.04 -1.90,-3.40 -1.65,-4.90 C-1.48,-6.46 -0.74,-6.80 0,-6.80 C0.74,-6.80 1.48,-6.46 1.65,-4.90 C1.90,-3.40 0.35,-2.04 0,0Z" transform="rotate(60)"/><path d="M0,0 C-0.35,-2.04 -1.90,-3.40 -1.65,-4.90 C-1.48,-6.46 -0.74,-6.80 0,-6.80 C0.74,-6.80 1.48,-6.46 1.65,-4.90 C1.90,-3.40 0.35,-2.04 0,0Z" transform="rotate(120)"/><path d="M0,0 C-0.35,-2.04 -1.90,-3.40 -1.65,-4.90 C-1.48,-6.46 -0.74,-6.80 0,-6.80 C0.74,-6.80 1.48,-6.46 1.65,-4.90 C1.90,-3.40 0.35,-2.04 0,0Z" transform="rotate(180)"/><path d="M0,0 C-0.35,-2.04 -1.90,-3.40 -1.65,-4.90 C-1.48,-6.46 -0.74,-6.80 0,-6.80 C0.74,-6.80 1.48,-6.46 1.65,-4.90 C1.90,-3.40 0.35,-2.04 0,0Z" transform="rotate(240)"/><path d="M0,0 C-0.35,-2.04 -1.90,-3.40 -1.65,-4.90 C-1.48,-6.46 -0.74,-6.80 0,-6.80 C0.74,-6.80 1.48,-6.46 1.65,-4.90 C1.90,-3.40 0.35,-2.04 0,0Z" transform="rotate(300)"/></g>
<g fill="#000" transform="translate(552.70,1562.70)"><path d="M0,0 C-0.35,-2.04 -1.90,-3.40 -1.65,-4.90 C-1.48,-6.46 -0.74,-6.80 0,-6.80 C0.74,-6.80 1.48,-6.46 1.65,-4.90 C1.90,-3.40 0.35,-2.04 0,0Z" transform="rotate(0)"/><path d="M0,0 C-0.35,-2.04 -1.90,-3.40 -1.65,-4.90 C-1.48,-6.46 -0.74,-6.80 0,-6.80 C0.74,-6.80 1.48,-6.46 1.65,-4.90 C1.90,-3.40 0.35,-2.04 0,0Z" transform="rotate(60)"/><path d="M0,0 C-0.35,-2.04 -1.90,-3.40 -1.65,-4.90 C-1.48,-6.46 -0.74,-6.80 0,-6.80 C0.74,-6.80 1.48,-6.46 1.65,-4.90 C1.90,-3.40 0.35,-2.04 0,0Z" transform="rotate(120)"/><path d="M0,0 C-0.35,-2.04 -1.90,-3.40 -1.65,-4.90 C-1.48,-6.46 -0.74,-6.80 0,-6.80 C0.74,-6.80 1.48,-6.46 1.65,-4.90 C1.90,-3.40 0.35,-2.04 0,0Z" transform="rotate(180)"/><path d="M0,0 C-0.35,-2.04 -1.90,-3.40 -1.65,-4.90 C-1.48,-6.46 -0.74,-6.80 0,-6.80 C0.74,-6.80 1.48,-6.46 1.65,-4.90 C1.90,-3.40 0.35,-2.04 0,0Z" transform="rotate(240)"/><path d="M0,0 C-0.35,-2.04 -1.90,-3.40 -1.65,-4.90 C-1.48,-6.46 -0.74,-6.80 0,-6.80 C0.74,-6.80 1.48,-6.46 1.65,-4.90 C1.90,-3.40 0.35,-2.04 0,0Z" transform="rotate(300)"/></g>
<g fill="#000" transform="translate(596.50,1522.30)"><path d="M0,0 C-0.35,-2.04 -1.90,-3.40 -1.65,-4.90 C-1.48,-6.46 -0.74,-6.80 0,-6.80 C0.74,-6.80 1.48,-6.46 1.65,-4.90 C1.90,-3.40 0.35,-2.04 0,0Z" transform="rotate(0)"/><path d="M0,0 C-0.35,-2.04 -1.90,-3.40 -1.65,-4.90 C-1.48,-6.46 -0.74,-6.80 0,-6.80 C0.74,-6.80 1.48,-6.46 1.65,-4.90 C1.90,-3.40 0.35,-2.04 0,0Z" transform="rotate(60)"/><path d="M0,0 C-0.35,-2.04 -1.90,-3.40 -1.65,-4.90 C-1.48,-6.46 -0.74,-6.80 0,-6.80 C0.74,-6.80 1.48,-6.46 1.65,-4.90 C1.90,-3.40 0.35,-2.04 0,0Z" transform="rotate(120)"/><path d="M0,0 C-0.35,-2.04 -1.90,-3.40 -1.65,-4.90 C-1.48,-6.46 -0.74,-6.80 0,-6.80 C0.74,-6.80 1.48,-6.46 1.65,-4.90 C1.90,-3.40 0.35,-2.04 0,0Z" transform="rotate(180)"/><path d="M0,0 C-0.35,-2.04 -1.90,-3.40 -1.65,-4.90 C-1.48,-6.46 -0.74,-6.80 0,-6.80 C0.74,-6.80 1.48,-6.46 1.65,-4.90 C1.90,-3.40 0.35,-2.04 0,0Z" transform="rotate(240)"/><path d="M0,0 C-0.35,-2.04 -1.90,-3.40 -1.65,-4.90 C-1.48,-6.46 -0.74,-6.80 0,-6.80 C0.74,-6.80 1.48,-6.46 1.65,-4.90 C1.90,-3.40 0.35,-2.04 0,0Z" transform="rotate(300)"/></g>
<line x1="150.30" y1="1322.30" x2="184.60" y2="1322.30" stroke="#ED1C24" stroke-width="4.5" stroke-linecap="butt"/>
<text x="203.44" y="1330.30" style="font-family:'Liberation Serif';font-weight:bold;font-style:normal;font-size:30px" fill="#000" textLength="164.53" lengthAdjust="spacingAndGlyphs">rPoCXCL10</text>
<line x1="152.10" y1="1357.10" x2="186.00" y2="1357.10" stroke="#7F7F7F" stroke-width="4.5" stroke-linecap="butt"/>
<text x="204.78" y="1365.10" style="font-family:'Liberation Serif';font-weight:bold;font-style:normal;font-size:30px" fill="#000" textLength="100.73" lengthAdjust="spacingAndGlyphs">Control</text>
<line x1="153.40" y1="1394.00" x2="187.80" y2="1394.00" stroke="#000" stroke-width="4.5" stroke-linecap="butt"/>
<text x="207.06" y="1402.50" style="font-family:'Liberation Serif';font-weight:bold;font-style:normal;font-size:30px" fill="#000" textLength="85.70" lengthAdjust="spacingAndGlyphs">rSumo</text>
<line x1="859.50" y1="1297.00" x2="859.50" y2="1604.00" stroke="#000" stroke-width="3.0" stroke-linecap="butt"/>
<line x1="851.10" y1="1298.50" x2="859.50" y2="1298.50" stroke="#000" stroke-width="3.0" stroke-linecap="butt"/>
<line x1="851.10" y1="1374.50" x2="859.50" y2="1374.50" stroke="#000" stroke-width="3.0" stroke-linecap="butt"/>
<line x1="851.10" y1="1450.50" x2="859.50" y2="1450.50" stroke="#000" stroke-width="3.0" stroke-linecap="butt"/>
<line x1="851.10" y1="1526.50" x2="859.50" y2="1526.50" stroke="#000" stroke-width="3.0" stroke-linecap="butt"/>
<line x1="851.10" y1="1602.50" x2="859.50" y2="1602.50" stroke="#000" stroke-width="3.0" stroke-linecap="butt"/>
<line x1="851.10" y1="1602.50" x2="1340.90" y2="1602.50" stroke="#000" stroke-width="3.0" stroke-linecap="butt"/>
<line x1="881.80" y1="1602.50" x2="881.80" y2="1611.50" stroke="#000" stroke-width="3.0" stroke-linecap="butt"/>
<line x1="925.29" y1="1602.50" x2="925.29" y2="1611.50" stroke="#000" stroke-width="3.0" stroke-linecap="butt"/>
<line x1="968.78" y1="1602.50" x2="968.78" y2="1611.50" stroke="#000" stroke-width="3.0" stroke-linecap="butt"/>
<line x1="1012.27" y1="1602.50" x2="1012.27" y2="1611.50" stroke="#000" stroke-width="3.0" stroke-linecap="butt"/>
<line x1="1055.76" y1="1602.50" x2="1055.76" y2="1611.50" stroke="#000" stroke-width="3.0" stroke-linecap="butt"/>
<line x1="1099.25" y1="1602.50" x2="1099.25" y2="1611.50" stroke="#000" stroke-width="3.0" stroke-linecap="butt"/>
<line x1="1142.74" y1="1602.50" x2="1142.74" y2="1611.50" stroke="#000" stroke-width="3.0" stroke-linecap="butt"/>
<line x1="1186.23" y1="1602.50" x2="1186.23" y2="1611.50" stroke="#000" stroke-width="3.0" stroke-linecap="butt"/>
<line x1="1229.72" y1="1602.50" x2="1229.72" y2="1611.50" stroke="#000" stroke-width="3.0" stroke-linecap="butt"/>
<line x1="1273.21" y1="1602.50" x2="1273.21" y2="1611.50" stroke="#000" stroke-width="3.0" stroke-linecap="butt"/>
<line x1="1316.70" y1="1602.50" x2="1316.70" y2="1611.50" stroke="#000" stroke-width="3.0" stroke-linecap="butt"/>
<text x="802.46" y="1309.40" style="font-family:'Liberation Serif';font-weight:bold;font-style:normal;font-size:36px" fill="#000">0.8</text>
<text x="802.28" y="1385.40" style="font-family:'Liberation Serif';font-weight:bold;font-style:normal;font-size:36px" fill="#000">0.6</text>
<text x="801.92" y="1461.40" style="font-family:'Liberation Serif';font-weight:bold;font-style:normal;font-size:36px" fill="#000">0.4</text>
<text x="802.64" y="1537.40" style="font-family:'Liberation Serif';font-weight:bold;font-style:normal;font-size:36px" fill="#000">0.2</text>
<text x="802.64" y="1613.40" style="font-family:'Liberation Serif';font-weight:bold;font-style:normal;font-size:36px" fill="#000">0.0</text>
<text x="872.80" y="1644.00" style="font-family:'Liberation Serif';font-weight:bold;font-style:normal;font-size:36px" fill="#000">0</text>
<text x="916.29" y="1644.00" style="font-family:'Liberation Serif';font-weight:bold;font-style:normal;font-size:36px" fill="#000">2</text>
<text x="959.87" y="1644.00" style="font-family:'Liberation Serif';font-weight:bold;font-style:normal;font-size:36px" fill="#000">4</text>
<text x="1003.18" y="1644.00" style="font-family:'Liberation Serif';font-weight:bold;font-style:normal;font-size:36px" fill="#000">5</text>
<text x="1046.67" y="1644.00" style="font-family:'Liberation Serif';font-weight:bold;font-style:normal;font-size:36px" fill="#000">6</text>
<text x="1089.71" y="1644.00" style="font-family:'Liberation Serif';font-weight:bold;font-style:normal;font-size:36px" fill="#000">7</text>
<text x="1133.74" y="1644.00" style="font-family:'Liberation Serif';font-weight:bold;font-style:normal;font-size:36px" fill="#000">8</text>
<text x="1177.41" y="1644.00" style="font-family:'Liberation Serif';font-weight:bold;font-style:normal;font-size:36px" fill="#000">9</text>
<text x="1211.00" y="1644.00" style="font-family:'Liberation Serif';font-weight:bold;font-style:normal;font-size:36px" fill="#000">10</text>
<text x="1255.66" y="1644.00" style="font-family:'Liberation Serif';font-weight:bold;font-style:normal;font-size:36px" fill="#000">11</text>
<text x="1297.98" y="1644.00" style="font-family:'Liberation Serif';font-weight:bold;font-style:normal;font-size:36px" fill="#000">12</text>
<text x="1036.07" y="1686.40" style="font-family:'Liberation Serif';font-weight:bold;font-style:normal;font-size:37px" fill="#000" textLength="129.47" lengthAdjust="spacingAndGlyphs">Time (h)</text>
<text x="1019.78" y="1260.50" style="font-family:'Liberation Serif';font-weight:bold;font-style:italic;font-size:51px" fill="#000">S. iniae</text>
<text transform="translate(780.40,1490.24) rotate(-90)" x="0" y="0" style="font-family:'Liberation Serif';font-weight:bold;font-style:normal;font-size:37px" fill="#000" textLength="52.31" lengthAdjust="spacingAndGlyphs">OD</text>
<text transform="translate(788.70,1437.91) rotate(-90)" x="0" y="0" style="font-family:'Liberation Serif';font-weight:bold;font-size:26px;letter-spacing:0.08px" fill="#000">600</text>
<line x1="1229.72" y1="1493.06" x2="1229.72" y2="1502.94" stroke="#000" stroke-width="1.6" stroke-linecap="butt"/>
<line x1="1226.72" y1="1493.06" x2="1232.72" y2="1493.06" stroke="#000" stroke-width="1.6" stroke-linecap="butt"/>
<line x1="1226.72" y1="1502.94" x2="1232.72" y2="1502.94" stroke="#000" stroke-width="1.6" stroke-linecap="butt"/>
<line x1="1273.21" y1="1435.30" x2="1273.21" y2="1450.50" stroke="#000" stroke-width="1.6" stroke-linecap="butt"/>
<line x1="1270.21" y1="1435.30" x2="1276.21" y2="1435.30" stroke="#000" stroke-width="1.6" stroke-linecap="butt"/>
<line x1="1270.21" y1="1450.50" x2="1276.21" y2="1450.50" stroke="#000" stroke-width="1.6" stroke-linecap="butt"/>
<line x1="1316.70" y1="1388.56" x2="1316.70" y2="1399.20" stroke="#000" stroke-width="1.6" stroke-linecap="butt"/>
<line x1="1313.70" y1="1388.56" x2="1319.70" y2="1388.56" stroke="#000" stroke-width="1.6" stroke-linecap="butt"/>
<line x1="1313.70" y1="1399.20" x2="1319.70" y2="1399.20" stroke="#000" stroke-width="1.6" stroke-linecap="butt"/>
<polyline points="881.80,1594.14 925.29,1593.38 968.78,1592.62 1012.27,1590.34 1055.76,1588.44 1099.25,1583.88 1142.74,1575.52 1186.23,1556.14 1229.72,1498.00 1273.21,1442.90 1316.70,1393.88" fill="none" stroke="#000" stroke-width="4.2" stroke-linejoin="round" stroke-linecap="round"/>
<line x1="1273.21" y1="1431.50" x2="1273.21" y2="1439.10" stroke="#7F7F7F" stroke-width="1.6" stroke-linecap="butt"/>
<line x1="1270.21" y1="1431.50" x2="1276.21" y2="1431.50" stroke="#7F7F7F" stroke-width="1.6" stroke-linecap="butt"/>
<line x1="1270.21" y1="1439.10" x2="1276.21" y2="1439.10" stroke="#7F7F7F" stroke-width="1.6" stroke-linecap="butt"/>
<line x1="1316.70" y1="1380.20" x2="1316.70" y2="1385.90" stroke="#7F7F7F" stroke-width="1.6" stroke-linecap="butt"/>
<line x1="1313.70" y1="1380.20" x2="1319.70" y2="1380.20" stroke="#7F7F7F" stroke-width="1.6" stroke-linecap="butt"/>
<line x1="1313.70" y1="1385.90" x2="1319.70" y2="1385.90" stroke="#7F7F7F" stroke-width="1.6" stroke-linecap="butt"/>
<polyline points="881.80,1593.38 925.29,1592.62 968.78,1591.86 1012.27,1589.58 1055.76,1587.68 1099.25,1581.60 1142.74,1573.24 1186.23,1552.34 1229.72,1488.50 1273.21,1435.30 1316.70,1382.86" fill="none" stroke="#7F7F7F" stroke-width="4.2" stroke-linejoin="round" stroke-linecap="round"/>
<line x1="1186.23" y1="1576.28" x2="1186.23" y2="1582.36" stroke="#ED1C24" stroke-width="1.6" stroke-linecap="butt"/>
<line x1="1183.23" y1="1576.28" x2="1189.23" y2="1576.28" stroke="#ED1C24" stroke-width="1.6" stroke-linecap="butt"/>
<line x1="1183.23" y1="1582.36" x2="1189.23" y2="1582.36" stroke="#ED1C24" stroke-width="1.6" stroke-linecap="butt"/>
<line x1="1273.21" y1="1515.10" x2="1273.21" y2="1521.94" stroke="#ED1C24" stroke-width="1.6" stroke-linecap="butt"/>
<line x1="1270.21" y1="1515.10" x2="1276.21" y2="1515.10" stroke="#ED1C24" stroke-width="1.6" stroke-linecap="butt"/>
<line x1="1270.21" y1="1521.94" x2="1276.21" y2="1521.94" stroke="#ED1C24" stroke-width="1.6" stroke-linecap="butt"/>
<line x1="1316.70" y1="1455.82" x2="1316.70" y2="1470.26" stroke="#ED1C24" stroke-width="1.6" stroke-linecap="butt"/>
<line x1="1313.70" y1="1455.82" x2="1319.70" y2="1455.82" stroke="#ED1C24" stroke-width="1.6" stroke-linecap="butt"/>
<line x1="1313.70" y1="1470.26" x2="1319.70" y2="1470.26" stroke="#ED1C24" stroke-width="1.6" stroke-linecap="butt"/>
<polyline points="881.80,1595.89 925.29,1595.28 968.78,1594.52 1012.27,1591.86 1055.76,1589.96 1099.25,1588.82 1142.74,1585.02 1186.23,1579.32 1229.72,1551.20 1273.21,1518.52 1316.70,1464.18" fill="none" stroke="#ED1C24" stroke-width="4.2" stroke-linejoin="round" stroke-linecap="round"/>
<g fill="#000" transform="translate(1153.90,1593.70)"><path d="M0,0 C-0.35,-2.04 -1.90,-3.40 -1.65,-4.90 C-1.48,-6.46 -0.74,-6.80 0,-6.80 C0.74,-6.80 1.48,-6.46 1.65,-4.90 C1.90,-3.40 0.35,-2.04 0,0Z" transform="rotate(0)"/><path d="M0,0 C-0.35,-2.04 -1.90,-3.40 -1.65,-4.90 C-1.48,-6.46 -0.74,-6.80 0,-6.80 C0.74,-6.80 1.48,-6.46 1.65,-4.90 C1.90,-3.40 0.35,-2.04 0,0Z" transform="rotate(60)"/><path d="M0,0 C-0.35,-2.04 -1.90,-3.40 -1.65,-4.90 C-1.48,-6.46 -0.74,-6.80 0,-6.80 C0.74,-6.80 1.48,-6.46 1.65,-4.90 C1.90,-3.40 0.35,-2.04 0,0Z" transform="rotate(120)"/><path d="M0,0 C-0.35,-2.04 -1.90,-3.40 -1.65,-4.90 C-1.48,-6.46 -0.74,-6.80 0,-6.80 C0.74,-6.80 1.48,-6.46 1.65,-4.90 C1.90,-3.40 0.35,-2.04 0,0Z" transform="rotate(180)"/><path d="M0,0 C-0.35,-2.04 -1.90,-3.40 -1.65,-4.90 C-1.48,-6.46 -0.74,-6.80 0,-6.80 C0.74,-6.80 1.48,-6.46 1.65,-4.90 C1.90,-3.40 0.35,-2.04 0,0Z" transform="rotate(240)"/><path d="M0,0 C-0.35,-2.04 -1.90,-3.40 -1.65,-4.90 C-1.48,-6.46 -0.74,-6.80 0,-6.80 C0.74,-6.80 1.48,-6.46 1.65,-4.90 C1.90,-3.40 0.35,-2.04 0,0Z" transform="rotate(300)"/></g>
<g fill="#000" transform="translate(1192.00,1592.50)"><path d="M0,0 C-0.35,-2.04 -1.90,-3.40 -1.65,-4.90 C-1.48,-6.46 -0.74,-6.80 0,-6.80 C0.74,-6.80 1.48,-6.46 1.65,-4.90 C1.90,-3.40 0.35,-2.04 0,0Z" transform="rotate(0)"/><path d="M0,0 C-0.35,-2.04 -1.90,-3.40 -1.65,-4.90 C-1.48,-6.46 -0.74,-6.80 0,-6.80 C0.74,-6.80 1.48,-6.46 1.65,-4.90 C1.90,-3.40 0.35,-2.04 0,0Z" transform="rotate(60)"/><path d="M0,0 C-0.35,-2.04 -1.90,-3.40 -1.65,-4.90 C-1.48,-6.46 -0.74,-6.80 0,-6.80 C0.74,-6.80 1.48,-6.46 1.65,-4.90 C1.90,-3.40 0.35,-2.04 0,0Z" transform="rotate(120)"/><path d="M0,0 C-0.35,-2.04 -1.90,-3.40 -1.65,-4.90 C-1.48,-6.46 -0.74,-6.80 0,-6.80 C0.74,-6.80 1.48,-6.46 1.65,-4.90 C1.90,-3.40 0.35,-2.04 0,0Z" transform="rotate(180)"/><path d="M0,0 C-0.35,-2.04 -1.90,-3.40 -1.65,-4.90 C-1.48,-6.46 -0.74,-6.80 0,-6.80 C0.74,-6.80 1.48,-6.46 1.65,-4.90 C1.90,-3.40 0.35,-2.04 0,0Z" transform="rotate(240)"/><path d="M0,0 C-0.35,-2.04 -1.90,-3.40 -1.65,-4.90 C-1.48,-6.46 -0.74,-6.80 0,-6.80 C0.74,-6.80 1.48,-6.46 1.65,-4.90 C1.90,-3.40 0.35,-2.04 0,0Z" transform="rotate(300)"/></g>
<g fill="#000" transform="translate(1233.10,1568.30)"><path d="M0,0 C-0.35,-2.04 -1.90,-3.40 -1.65,-4.90 C-1.48,-6.46 -0.74,-6.80 0,-6.80 C0.74,-6.80 1.48,-6.46 1.65,-4.90 C1.90,-3.40 0.35,-2.04 0,0Z" transform="rotate(0)"/><path d="M0,0 C-0.35,-2.04 -1.90,-3.40 -1.65,-4.90 C-1.48,-6.46 -0.74,-6.80 0,-6.80 C0.74,-6.80 1.48,-6.46 1.65,-4.90 C1.90,-3.40 0.35,-2.04 0,0Z" transform="rotate(60)"/><path d="M0,0 C-0.35,-2.04 -1.90,-3.40 -1.65,-4.90 C-1.48,-6.46 -0.74,-6.80 0,-6.80 C0.74,-6.80 1.48,-6.46 1.65,-4.90 C1.90,-3.40 0.35,-2.04 0,0Z" transform="rotate(120)"/><path d="M0,0 C-0.35,-2.04 -1.90,-3.40 -1.65,-4.90 C-1.48,-6.46 -0.74,-6.80 0,-6.80 C0.74,-6.80 1.48,-6.46 1.65,-4.90 C1.90,-3.40 0.35,-2.04 0,0Z" transform="rotate(180)"/><path d="M0,0 C-0.35,-2.04 -1.90,-3.40 -1.65,-4.90 C-1.48,-6.46 -0.74,-6.80 0,-6.80 C0.74,-6.80 1.48,-6.46 1.65,-4.90 C1.90,-3.40 0.35,-2.04 0,0Z" transform="rotate(240)"/><path d="M0,0 C-0.35,-2.04 -1.90,-3.40 -1.65,-4.90 C-1.48,-6.46 -0.74,-6.80 0,-6.80 C0.74,-6.80 1.48,-6.46 1.65,-4.90 C1.90,-3.40 0.35,-2.04 0,0Z" transform="rotate(300)"/></g>
<g fill="#000" transform="translate(1274.30,1541.60)"><path d="M0,0 C-0.35,-2.04 -1.90,-3.40 -1.65,-4.90 C-1.48,-6.46 -0.74,-6.80 0,-6.80 C0.74,-6.80 1.48,-6.46 1.65,-4.90 C1.90,-3.40 0.35,-2.04 0,0Z" transform="rotate(0)"/><path d="M0,0 C-0.35,-2.04 -1.90,-3.40 -1.65,-4.90 C-1.48,-6.46 -0.74,-6.80 0,-6.80 C0.74,-6.80 1.48,-6.46 1.65,-4.90 C1.90,-3.40 0.35,-2.04 0,0Z" transform="rotate(60)"/><path d="M0,0 C-0.35,-2.04 -1.90,-3.40 -1.65,-4.90 C-1.48,-6.46 -0.74,-6.80 0,-6.80 C0.74,-6.80 1.48,-6.46 1.65,-4.90 C1.90,-3.40 0.35,-2.04 0,0Z" transform="rotate(120)"/><path d="M0,0 C-0.35,-2.04 -1.90,-3.40 -1.65,-4.90 C-1.48,-6.46 -0.74,-6.80 0,-6.80 C0.74,-6.80 1.48,-6.46 1.65,-4.90 C1.90,-3.40 0.35,-2.04 0,0Z" transform="rotate(180)"/><path d="M0,0 C-0.35,-2.04 -1.90,-3.40 -1.65,-4.90 C-1.48,-6.46 -0.74,-6.80 0,-6.80 C0.74,-6.80 1.48,-6.46 1.65,-4.90 C1.90,-3.40 0.35,-2.04 0,0Z" transform="rotate(240)"/><path d="M0,0 C-0.35,-2.04 -1.90,-3.40 -1.65,-4.90 C-1.48,-6.46 -0.74,-6.80 0,-6.80 C0.74,-6.80 1.48,-6.46 1.65,-4.90 C1.90,-3.40 0.35,-2.04 0,0Z" transform="rotate(300)"/></g>
<g fill="#000" transform="translate(1317.90,1492.00)"><path d="M0,0 C-0.35,-2.04 -1.90,-3.40 -1.65,-4.90 C-1.48,-6.46 -0.74,-6.80 0,-6.80 C0.74,-6.80 1.48,-6.46 1.65,-4.90 C1.90,-3.40 0.35,-2.04 0,0Z" transform="rotate(0)"/><path d="M0,0 C-0.35,-2.04 -1.90,-3.40 -1.65,-4.90 C-1.48,-6.46 -0.74,-6.80 0,-6.80 C0.74,-6.80 1.48,-6.46 1.65,-4.90 C1.90,-3.40 0.35,-2.04 0,0Z" transform="rotate(60)"/><path d="M0,0 C-0.35,-2.04 -1.90,-3.40 -1.65,-4.90 C-1.48,-6.46 -0.74,-6.80 0,-6.80 C0.74,-6.80 1.48,-6.46 1.65,-4.90 C1.90,-3.40 0.35,-2.04 0,0Z" transform="rotate(120)"/><path d="M0,0 C-0.35,-2.04 -1.90,-3.40 -1.65,-4.90 C-1.48,-6.46 -0.74,-6.80 0,-6.80 C0.74,-6.80 1.48,-6.46 1.65,-4.90 C1.90,-3.40 0.35,-2.04 0,0Z" transform="rotate(180)"/><path d="M0,0 C-0.35,-2.04 -1.90,-3.40 -1.65,-4.90 C-1.48,-6.46 -0.74,-6.80 0,-6.80 C0.74,-6.80 1.48,-6.46 1.65,-4.90 C1.90,-3.40 0.35,-2.04 0,0Z" transform="rotate(240)"/><path d="M0,0 C-0.35,-2.04 -1.90,-3.40 -1.65,-4.90 C-1.48,-6.46 -0.74,-6.80 0,-6.80 C0.74,-6.80 1.48,-6.46 1.65,-4.90 C1.90,-3.40 0.35,-2.04 0,0Z" transform="rotate(300)"/></g>
<line x1="872.10" y1="1321.80" x2="906.40" y2="1321.80" stroke="#ED1C24" stroke-width="4.5" stroke-linecap="butt"/>
<text x="925.54" y="1329.40" style="font-family:'Liberation Serif';font-weight:bold;font-style:normal;font-size:30px" fill="#000" textLength="163.82" lengthAdjust="spacingAndGlyphs">rPoCXCL10</text>
<line x1="873.90" y1="1356.70" x2="907.80" y2="1356.70" stroke="#7F7F7F" stroke-width="4.5" stroke-linecap="butt"/>
<text x="926.28" y="1364.60" style="font-family:'Liberation Serif';font-weight:bold;font-style:normal;font-size:30px" fill="#000" textLength="101.03" lengthAdjust="spacingAndGlyphs">Control</text>
<line x1="875.20" y1="1393.10" x2="909.00" y2="1393.10" stroke="#000" stroke-width="4.5" stroke-linecap="butt"/>
<text x="928.46" y="1401.60" style="font-family:'Liberation Serif';font-weight:bold;font-style:normal;font-size:30px" fill="#000" textLength="85.70" lengthAdjust="spacingAndGlyphs">rSumo</text>
</svg>
</body></html>
